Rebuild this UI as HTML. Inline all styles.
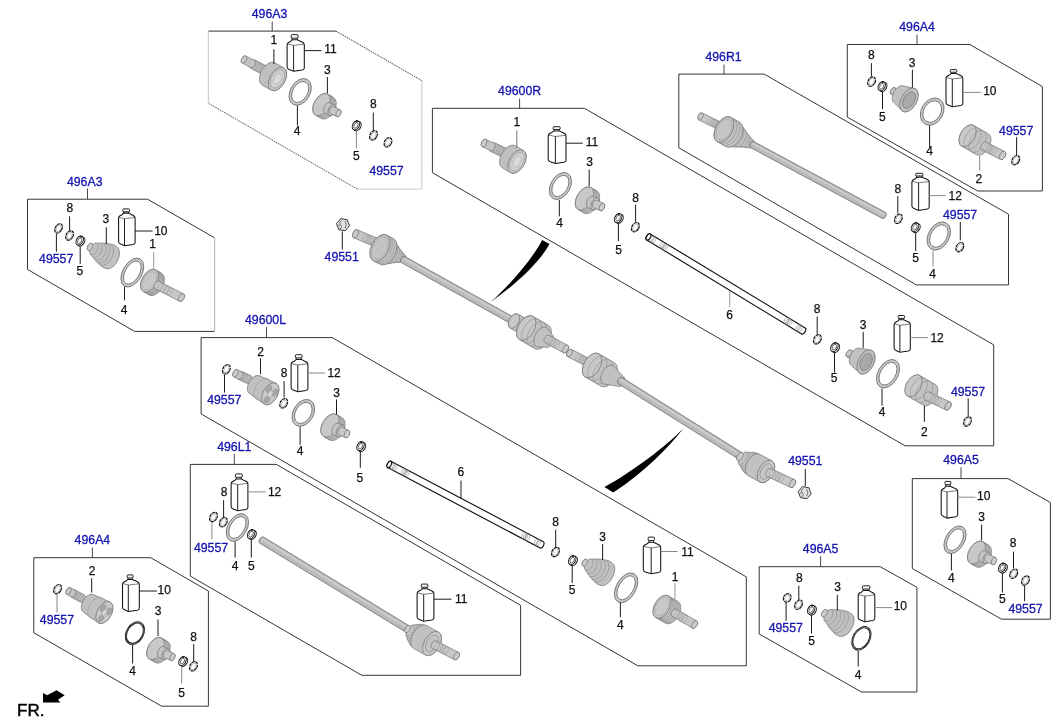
<!DOCTYPE html>
<html><head><meta charset="utf-8"><style>
html,body{margin:0;padding:0;background:#fff;}
svg{display:block;font-family:"Liberation Sans",sans-serif;}
svg{will-change:transform;}
</style></head><body>
<svg width="1063" height="727" viewBox="0 0 1063 727">
<rect width="1063" height="727" fill="#fff"/>
<line x1="208.3" y1="31.1" x2="335.9" y2="31.1" stroke="#333" stroke-width="1.0"/>
<line x1="335.9" y1="31.1" x2="421.9" y2="80.7" stroke="#333" stroke-width="0.9" stroke-dasharray="1.6 0.9"/>
<line x1="357.5" y1="189.2" x2="208.3" y2="103.2" stroke="#444" stroke-width="0.9" stroke-dasharray="1.6 0.9"/>
<line x1="421.9" y1="80.7" x2="421.9" y2="189.2" stroke="#c4c4c4" stroke-width="1.0"/>
<line x1="421.9" y1="189.2" x2="357.5" y2="189.2" stroke="#d4d4d4" stroke-width="1.2"/>
<line x1="208.3" y1="103.2" x2="208.3" y2="31.1" stroke="#c4c4c4" stroke-width="1.0"/>
<polyline points="214.6,237.8 147.5,199.2 27.5,199.2 27.5,269.4 134.6,331.4 214.6,331.4" fill="none" stroke="#2a2a2a" stroke-width="0.95"/>
<line x1="214.6" y1="237.8" x2="214.6" y2="331.4" stroke="#b8b8b8" stroke-width="1.1"/>
<polygon points="432.4,108.3 584.5,108.3 993.7,344.9 993.7,445.8 905,445.8 432.4,172.7" fill="none" stroke="#2a2a2a" stroke-width="0.95" />
<polygon points="678.8,74.1 764.2,74.1 1008.5,214.2 1008.5,284.9 916.3,284.9 678.8,147.8" fill="none" stroke="#2a2a2a" stroke-width="0.95" />
<polygon points="847.3,44.5 969.9,44.5 1042.4,86.6 1042.4,191 977.7,191 847.3,117.1" fill="none" stroke="#2a2a2a" stroke-width="0.95" />
<polygon points="201.1,337.6 332.3,337.6 746.3,576.9 746.3,665.8 637.8,665.8 201.1,413.9" fill="none" stroke="#2a2a2a" stroke-width="0.95" />
<polygon points="190.3,464.4 276.3,464.4 520.6,605.3 520.6,675.3 361.8,675.3 190.3,576.1" fill="none" stroke="#2a2a2a" stroke-width="0.95" />
<polygon points="33.8,557.7 150.7,557.7 208.4,591 208.4,706.2 161.7,706.2 33.8,632.8" fill="none" stroke="#2a2a2a" stroke-width="0.95" />
<polygon points="759.2,566.7 880.2,566.7 916.9,587.3 916.9,692 861.5,692 759.2,634" fill="none" stroke="#2a2a2a" stroke-width="0.95" />
<polygon points="912.3,478.6 1008,478.6 1050.4,502.5 1050.4,619.2 1001.5,619.2 912.3,568.5" fill="none" stroke="#2a2a2a" stroke-width="0.95" />
<text x="269.5" y="18.2" font-size="12.3" fill="#1414ae" stroke="#1414ae" stroke-width="0.3" text-anchor="middle">496A3</text>
<line x1="272.2" y1="21.5" x2="272.2" y2="31.1" stroke="#333" stroke-width="0.9"/>
<text x="84.7" y="185.5" font-size="12.3" fill="#1414ae" stroke="#1414ae" stroke-width="0.3" text-anchor="middle">496A3</text>
<line x1="87.5" y1="188.5" x2="87.5" y2="199.2" stroke="#333" stroke-width="0.9"/>
<text x="519.6" y="95.2" font-size="12.3" fill="#1414ae" stroke="#1414ae" stroke-width="0.3" text-anchor="middle">49600R</text>
<line x1="519.6" y1="98.5" x2="519.6" y2="108.3" stroke="#333" stroke-width="0.9"/>
<text x="723.5" y="61.2" font-size="12.3" fill="#1414ae" stroke="#1414ae" stroke-width="0.3" text-anchor="middle">496R1</text>
<line x1="724" y1="64.5" x2="724" y2="74.1" stroke="#333" stroke-width="0.9"/>
<text x="917" y="31.2" font-size="12.3" fill="#1414ae" stroke="#1414ae" stroke-width="0.3" text-anchor="middle">496A4</text>
<line x1="917" y1="34.5" x2="917" y2="44.5" stroke="#333" stroke-width="0.9"/>
<text x="265.5" y="323.7" font-size="12.3" fill="#1414ae" stroke="#1414ae" stroke-width="0.3" text-anchor="middle">49600L</text>
<line x1="266.5" y1="327" x2="266.5" y2="337.6" stroke="#333" stroke-width="0.9"/>
<text x="234.3" y="450.8" font-size="12.3" fill="#1414ae" stroke="#1414ae" stroke-width="0.3" text-anchor="middle">496L1</text>
<line x1="234.3" y1="454" x2="234.3" y2="464.4" stroke="#333" stroke-width="0.9"/>
<text x="92.4" y="544.2" font-size="12.3" fill="#1414ae" stroke="#1414ae" stroke-width="0.3" text-anchor="middle">496A4</text>
<line x1="92.4" y1="547.5" x2="92.4" y2="557.7" stroke="#333" stroke-width="0.9"/>
<text x="820.6" y="553" font-size="12.3" fill="#1414ae" stroke="#1414ae" stroke-width="0.3" text-anchor="middle">496A5</text>
<line x1="820.6" y1="556.3" x2="820.6" y2="566.7" stroke="#333" stroke-width="0.9"/>
<text x="961" y="463.8" font-size="12.3" fill="#1414ae" stroke="#1414ae" stroke-width="0.3" text-anchor="middle">496A5</text>
<line x1="961" y1="467.2" x2="961" y2="478.6" stroke="#333" stroke-width="0.9"/>
<path d="M250.62,68.27 L263.82,75.17 A2.82,4.7 27.6 0 0 268.18,66.83 L254.98,59.93 A2.82,4.7 27.6 0 0 250.62,68.27 Z" fill="#bdbdbd" stroke="#757575" stroke-width="0.7"/>
<ellipse cx="255.44" cy="65.48" rx="2.77" ry="4.62" transform="rotate(27.6 255.44 65.48)" fill="none" stroke="#989898" stroke-width="0.5"/>
<ellipse cx="258.08" cy="66.86" rx="2.77" ry="4.62" transform="rotate(27.6 258.08 66.86)" fill="none" stroke="#989898" stroke-width="0.5"/>
<ellipse cx="260.72" cy="68.24" rx="2.77" ry="4.62" transform="rotate(27.6 260.72 68.24)" fill="none" stroke="#989898" stroke-width="0.5"/>
<ellipse cx="263.36" cy="69.62" rx="2.77" ry="4.62" transform="rotate(27.6 263.36 69.62)" fill="none" stroke="#989898" stroke-width="0.5"/>
<path d="M242.15,63.04 L250.95,67.64 A2.39,3.99 27.6 0 0 254.65,60.56 L245.85,55.96 A2.39,3.99 27.6 0 0 242.15,63.04 Z" fill="#c4c4c4" stroke="#757575" stroke-width="0.7"/>
<ellipse cx="244" cy="59.5" rx="2.39" ry="3.99" transform="rotate(27.6 244 59.5)" fill="#cdcdcd" stroke="#757575" stroke-width="0.7" />
<path d="M262.28,85.19 L271.28,90.19 A7.68,12.8 29.05 0 0 283.72,67.81 L274.72,62.81 A7.68,12.8 29.05 0 0 262.28,85.19 Z" fill="#bfbfbf" stroke="#757575" stroke-width="0.7"/>
<ellipse cx="277.5" cy="79" rx="7.68" ry="12.8" transform="rotate(29.05 277.5 79)" fill="#c6c6c6" stroke="#757575" stroke-width="0.7" />
<ellipse cx="277.5" cy="79" rx="5.99" ry="9.98" transform="rotate(29.05 277.5 79)" fill="#d2d2d2" stroke="#9a9a9a" stroke-width="0.6" />
<polygon points="279.94,82.25 275.37,84.89 272.93,81.64 275.06,75.75 279.63,73.11 282.07,76.36" fill="#dadada" stroke="#a0a0a0" stroke-width="0.5" />
<path d="M287.1,44.9 Q287.1,42.4 290.6,41.4 L292,39.8 L297.3,39.8 L300.8,41.4 Q304.3,42.4 304.3,44.9 L304.3,68 Q304.3,69.5 302.3,70 L293.6,71.3 L289.1,69.5 Q287.1,68.8 287.1,67 Z" fill="#fff" stroke="#111" stroke-width="1.05"/>
<rect x="291.2" y="34.7" width="6.9" height="3.42" rx="0.8" fill="#fff" stroke="#111" stroke-width="0.95"/>
<path d="M292,38.12 L292,39.8 M297.3,38.12 L297.3,39.8" stroke="#111" stroke-width="0.9" fill="none"/>
<path d="M287.6,44 L293.6,45.4 L303.8,44.2" fill="none" stroke="#444" stroke-width="0.7"/>
<line x1="293.6" y1="45.4" x2="293.6" y2="71" stroke="#111" stroke-width="0.95"/>
<path d="M290.33,91.9 a9.87,14.33 0 1 0 19.75,0 a9.87,14.33 0 1 0 -19.75,0 Z M292.73,91.9 a7.47,11.33 0 1 0 14.95,0 a7.47,11.33 0 1 0 -14.95,0 Z" fill-rule="evenodd" fill="#c9c9c9" stroke="#6a6a6a" stroke-width="0.8" transform="rotate(30 300.2 91.9)"/>
<path d="M315.35,115.04 L321.35,118.54 A7.32,12.2 30.26 0 0 333.65,97.46 L327.65,93.96 A7.32,12.2 30.26 0 0 315.35,115.04 Z" fill="#c1c1c1" stroke="#757575" stroke-width="0.7"/>
<ellipse cx="323" cy="105.38" rx="7.32" ry="12.2" transform="rotate(30.26 323 105.38)" fill="none" stroke="#8a8a8a" stroke-width="0.5"/>
<ellipse cx="324.5" cy="106.25" rx="7.32" ry="12.2" transform="rotate(30.26 324.5 106.25)" fill="none" stroke="#8a8a8a" stroke-width="0.5"/>
<ellipse cx="326" cy="107.12" rx="7.32" ry="12.2" transform="rotate(30.26 326 107.12)" fill="none" stroke="#8a8a8a" stroke-width="0.5"/>
<ellipse cx="321.5" cy="104.5" rx="7.32" ry="12.2" transform="rotate(30.26 321.5 104.5)" fill="#c8c8c8" stroke="#757575" stroke-width="0.7" />
<path d="M325,113.29 L329.4,115.37 A3.51,5.85 25.3 0 0 334.4,104.79 L330,102.71 A3.51,5.85 25.3 0 0 325,113.29 Z" fill="#c4c4c4" stroke="#757575" stroke-width="0.7"/>
<ellipse cx="331.9" cy="110.08" rx="3.51" ry="5.85" transform="rotate(25.3 331.9 110.08)" fill="#c9c9c9" stroke="#757575" stroke-width="0.7" />
<path d="M330.27,113.54 L336.87,116.66 A2.29,3.82 25.3 0 0 340.13,109.74 L333.53,106.62 A2.29,3.82 25.3 0 0 330.27,113.54 Z" fill="#c8c8c8" stroke="#757575" stroke-width="0.7"/>
<ellipse cx="338.5" cy="113.2" rx="2.29" ry="3.82" transform="rotate(25.3 338.5 113.2)" fill="#d0d0d0" stroke="#757575" stroke-width="0.7" />
<ellipse cx="357.45" cy="126.25" rx="3.27" ry="4.88" transform="rotate(30 357.45 126.25)" fill="#f4f4f4" stroke="#111" stroke-width="1.0" />
<ellipse cx="355.98" cy="125.4" rx="3.27" ry="4.88" transform="rotate(30 355.98 125.4)" fill="#f8f8f8" stroke="#111" stroke-width="1.0" />
<ellipse cx="355.98" cy="125.4" rx="1.77" ry="3.18" transform="rotate(30 355.98 125.4)" fill="#fff" stroke="#333" stroke-width="0.7" />
<circle cx="356.78" cy="121.32" r="1" fill="#111"/>
<ellipse cx="373.5" cy="135.4" rx="3.44" ry="5.06" transform="rotate(30 373.5 135.4)" fill="none" stroke="#111" stroke-width="1.2" stroke-dasharray="3.2 0.6"/>
<ellipse cx="373.5" cy="135.4" rx="2.14" ry="3.66" transform="rotate(30 373.5 135.4)" fill="none" stroke="#9a9a9a" stroke-width="0.6" />
<ellipse cx="388" cy="142.3" rx="3.44" ry="5.06" transform="rotate(30 388 142.3)" fill="none" stroke="#111" stroke-width="1.2" stroke-dasharray="3.2 0.6"/>
<ellipse cx="388" cy="142.3" rx="2.14" ry="3.66" transform="rotate(30 388 142.3)" fill="none" stroke="#9a9a9a" stroke-width="0.6" />
<text x="273.8" y="43.8" font-size="12" fill="#111" stroke="#111" stroke-width="0.25" text-anchor="middle">1</text>
<line x1="273.9" y1="49.3" x2="273.9" y2="64" stroke="#1a1a1a" stroke-width="1.0"/>
<text x="324.3" y="53.4" font-size="12" fill="#111" stroke="#111" stroke-width="0.25" text-anchor="start">11</text>
<line x1="304.3" y1="50.6" x2="321.5" y2="50.6" stroke="#1a1a1a" stroke-width="1.0"/>
<text x="327.4" y="74.3" font-size="12" fill="#111" stroke="#111" stroke-width="0.25" text-anchor="middle">3</text>
<line x1="327.4" y1="77" x2="327.4" y2="93.3" stroke="#1a1a1a" stroke-width="1.0"/>
<text x="297" y="134.9" font-size="12" fill="#111" stroke="#111" stroke-width="0.25" text-anchor="middle">4</text>
<line x1="297.4" y1="105.5" x2="297.4" y2="125.5" stroke="#1a1a1a" stroke-width="1.0"/>
<text x="356.4" y="159.5" font-size="12" fill="#111" stroke="#111" stroke-width="0.25" text-anchor="middle">5</text>
<line x1="356.4" y1="131" x2="356.4" y2="148.2" stroke="#888" stroke-width="1.0"/>
<text x="373.3" y="108.4" font-size="12" fill="#111" stroke="#111" stroke-width="0.25" text-anchor="middle">8</text>
<line x1="373.3" y1="112.5" x2="373.3" y2="131" stroke="#1a1a1a" stroke-width="1.0"/>
<text x="386.5" y="175.4" font-size="12.3" fill="#1414ae" stroke="#1414ae" stroke-width="0.3" text-anchor="middle">49557</text>
<ellipse cx="58.6" cy="228.4" rx="3.31" ry="5.03" transform="rotate(30 58.6 228.4)" fill="none" stroke="#111" stroke-width="1.2" stroke-dasharray="3.2 0.6"/>
<ellipse cx="58.6" cy="228.4" rx="2.01" ry="3.63" transform="rotate(30 58.6 228.4)" fill="none" stroke="#9a9a9a" stroke-width="0.6" />
<line x1="56.4" y1="234" x2="56.4" y2="251.7" stroke="#1a1a1a" stroke-width="1.0"/>
<text x="56.2" y="262.7" font-size="12.3" fill="#1414ae" stroke="#1414ae" stroke-width="0.3" text-anchor="middle">49557</text>
<ellipse cx="69.6" cy="235.5" rx="3.44" ry="5.06" transform="rotate(30 69.6 235.5)" fill="none" stroke="#111" stroke-width="1.2" stroke-dasharray="3.2 0.6"/>
<ellipse cx="69.6" cy="235.5" rx="2.14" ry="3.66" transform="rotate(30 69.6 235.5)" fill="none" stroke="#9a9a9a" stroke-width="0.6" />
<text x="69.8" y="211.9" font-size="12" fill="#111" stroke="#111" stroke-width="0.25" text-anchor="middle">8</text>
<line x1="69.6" y1="216.3" x2="69.6" y2="230.8" stroke="#1a1a1a" stroke-width="1.0"/>
<ellipse cx="81.15" cy="241.55" rx="3.27" ry="4.88" transform="rotate(30 81.15 241.55)" fill="#f4f4f4" stroke="#111" stroke-width="1.0" />
<ellipse cx="79.68" cy="240.7" rx="3.27" ry="4.88" transform="rotate(30 79.68 240.7)" fill="#f8f8f8" stroke="#111" stroke-width="1.0" />
<ellipse cx="79.68" cy="240.7" rx="1.77" ry="3.18" transform="rotate(30 79.68 240.7)" fill="#fff" stroke="#333" stroke-width="0.7" />
<circle cx="80.48" cy="236.62" r="1" fill="#111"/>
<line x1="80.2" y1="246.5" x2="80.2" y2="263.8" stroke="#1a1a1a" stroke-width="1.0"/>
<text x="79.8" y="275.4" font-size="12" fill="#111" stroke="#111" stroke-width="0.25" text-anchor="middle">5</text>
<path d="M88.21,250.58 L89.89,251.42 L89.84,253.63 L92.8,257.15 L95.97,261.3 L99.49,264.77 L102.26,267.11 L105.52,268.46 A7.35,12.25 26.57 0 0 116.48,246.54 L113.44,244.74 L109.91,243.93 L105.03,243.2 L99.8,243.15 L95.2,242.89 L93.47,244.26 L91.79,243.42 A2.4,4 26.57 0 0 88.21,250.58 Z" fill="#c0c0c0" stroke="#747474" stroke-width="0.7" stroke-linejoin="round"/>
<path d="M90.91,254.62 A3.96,6.41 26.57 0 0 96.65,243.16" fill="none" stroke="#8c8c8c" stroke-width="0.6"/>
<path d="M93.23,257.35 A4.83,7.81 26.57 0 0 100.21,243.37" fill="none" stroke="#8c8c8c" stroke-width="0.6"/>
<path d="M95.47,260.21 A5.8,9.37 26.57 0 0 103.85,243.45" fill="none" stroke="#8c8c8c" stroke-width="0.6"/>
<path d="M97.88,262.74 A6.53,10.56 26.57 0 0 107.32,243.86" fill="none" stroke="#8c8c8c" stroke-width="0.6"/>
<path d="M100.39,265.07 A7.13,11.52 26.57 0 0 110.69,244.47" fill="none" stroke="#8c8c8c" stroke-width="0.6"/>
<ellipse cx="90" cy="247" rx="2.4" ry="4" transform="rotate(26.57 90 247)" fill="#cacaca" stroke="#757575" stroke-width="0.6" />
<text x="105.9" y="223.4" font-size="12" fill="#111" stroke="#111" stroke-width="0.25" text-anchor="middle">3</text>
<line x1="106.3" y1="227.3" x2="106.3" y2="244" stroke="#1a1a1a" stroke-width="1.0"/>
<path d="M118.6,218.2 Q118.6,215.7 122.1,214.7 L123.7,213.1 L128.7,213.1 L131.6,214.7 Q135.1,215.7 135.1,218.2 L135.1,242.4 Q135.1,243.9 133.1,244.4 L124.5,245.7 L120.6,243.9 Q118.6,243.2 118.6,241.4 Z" fill="#fff" stroke="#111" stroke-width="1.05"/>
<rect x="122.9" y="208.9" width="6.6" height="2.88" rx="0.8" fill="#fff" stroke="#111" stroke-width="0.95"/>
<path d="M123.7,211.78 L123.7,213.1 M128.7,211.78 L128.7,213.1" stroke="#111" stroke-width="0.9" fill="none"/>
<path d="M119.1,217.3 L124.5,218.7 L134.6,217.5" fill="none" stroke="#444" stroke-width="0.7"/>
<line x1="124.5" y1="218.7" x2="124.5" y2="245.4" stroke="#111" stroke-width="0.95"/>
<line x1="135.1" y1="231" x2="152.6" y2="231" stroke="#1a1a1a" stroke-width="1.0"/>
<text x="154.2" y="234.7" font-size="12" fill="#111" stroke="#111" stroke-width="0.25" text-anchor="start">10</text>
<path d="M122.77,272.6 a9.53,15.76 0 1 0 19.06,0 a9.53,15.76 0 1 0 -19.06,0 Z M125.17,272.6 a7.13,12.76 0 1 0 14.26,0 a7.13,12.76 0 1 0 -14.26,0 Z" fill-rule="evenodd" fill="#c9c9c9" stroke="#6a6a6a" stroke-width="0.8" transform="rotate(30 132.3 272.6)"/>
<line x1="124.5" y1="286.6" x2="124.5" y2="300.3" stroke="#1a1a1a" stroke-width="1.0"/>
<text x="124" y="313.5" font-size="12" fill="#111" stroke="#111" stroke-width="0.25" text-anchor="middle">4</text>
<path d="M143.2,291.5 L149.2,295 A7.5,12.5 30.26 0 0 161.8,273.4 L155.8,269.9 A7.5,12.5 30.26 0 0 143.2,291.5 Z" fill="#c1c1c1" stroke="#757575" stroke-width="0.7"/>
<ellipse cx="150.5" cy="281.28" rx="7.5" ry="12.5" transform="rotate(30.26 150.5 281.28)" fill="none" stroke="#8d8d8d" stroke-width="0.5"/>
<ellipse cx="151.5" cy="281.87" rx="7.5" ry="12.5" transform="rotate(30.26 151.5 281.87)" fill="none" stroke="#8d8d8d" stroke-width="0.5"/>
<ellipse cx="152.5" cy="282.45" rx="7.5" ry="12.5" transform="rotate(30.26 152.5 282.45)" fill="none" stroke="#8d8d8d" stroke-width="0.5"/>
<ellipse cx="153.5" cy="283.03" rx="7.5" ry="12.5" transform="rotate(30.26 153.5 283.03)" fill="none" stroke="#8d8d8d" stroke-width="0.5"/>
<ellipse cx="154.5" cy="283.62" rx="7.5" ry="12.5" transform="rotate(30.26 154.5 283.62)" fill="none" stroke="#8d8d8d" stroke-width="0.5"/>
<ellipse cx="149.5" cy="280.7" rx="7.5" ry="12.5" transform="rotate(30.26 149.5 280.7)" fill="#c8c8c8" stroke="#757575" stroke-width="0.7" />
<ellipse cx="149.5" cy="280.7" rx="6" ry="10" transform="rotate(30.26 149.5 280.7)" fill="none" stroke="#999" stroke-width="0.5" />
<path d="M183.41,293.76 L158.91,281.26 A2.52,4.2 -152.97 0 0 155.09,288.74 L179.59,301.24 A2.52,4.2 -152.97 0 0 183.41,293.76 Z" fill="#c8c8c8" stroke="#757575" stroke-width="0.7"/>
<ellipse cx="181.5" cy="297.5" rx="2.52" ry="4.2" transform="rotate(-152.97 181.5 297.5)" fill="#c9c9c9" stroke="#757575" stroke-width="0.7" />
<ellipse cx="169.74" cy="291.5" rx="2.39" ry="3.99" transform="rotate(-152.97 169.74 291.5)" fill="none" stroke="#999" stroke-width="0.5"/>
<ellipse cx="166.56" cy="289.88" rx="2.39" ry="3.99" transform="rotate(-152.97 166.56 289.88)" fill="none" stroke="#999" stroke-width="0.5"/>
<ellipse cx="163.37" cy="288.25" rx="2.39" ry="3.99" transform="rotate(-152.97 163.37 288.25)" fill="none" stroke="#999" stroke-width="0.5"/>
<ellipse cx="160.19" cy="286.62" rx="2.39" ry="3.99" transform="rotate(-152.97 160.19 286.62)" fill="none" stroke="#999" stroke-width="0.5"/>
<text x="152.6" y="247.9" font-size="12" fill="#111" stroke="#111" stroke-width="0.25" text-anchor="middle">1</text>
<line x1="153.7" y1="252" x2="153.7" y2="269.3" stroke="#999" stroke-width="1.0"/>
<path d="M490.33,151.35 L502.93,157.35 A2.89,4.82 25.46 0 0 507.07,148.65 L494.47,142.65 A2.89,4.82 25.46 0 0 490.33,151.35 Z" fill="#bdbdbd" stroke="#757575" stroke-width="0.7"/>
<ellipse cx="494.92" cy="148.2" rx="2.84" ry="4.73" transform="rotate(25.46 494.92 148.2)" fill="none" stroke="#989898" stroke-width="0.5"/>
<ellipse cx="497.44" cy="149.4" rx="2.84" ry="4.73" transform="rotate(25.46 497.44 149.4)" fill="none" stroke="#989898" stroke-width="0.5"/>
<ellipse cx="499.96" cy="150.6" rx="2.84" ry="4.73" transform="rotate(25.46 499.96 150.6)" fill="none" stroke="#989898" stroke-width="0.5"/>
<ellipse cx="502.48" cy="151.8" rx="2.84" ry="4.73" transform="rotate(25.46 502.48 151.8)" fill="none" stroke="#989898" stroke-width="0.5"/>
<path d="M482.24,146.69 L490.64,150.69 A2.45,4.08 25.46 0 0 494.16,143.31 L485.76,139.31 A2.45,4.08 25.46 0 0 482.24,146.69 Z" fill="#c4c4c4" stroke="#757575" stroke-width="0.7"/>
<ellipse cx="484" cy="143" rx="2.45" ry="4.08" transform="rotate(25.46 484 143)" fill="#cdcdcd" stroke="#757575" stroke-width="0.7" />
<path d="M502.33,167.85 L510.53,172.65 A7.68,12.8 30.34 0 0 523.47,150.55 L515.27,145.75 A7.68,12.8 30.34 0 0 502.33,167.85 Z" fill="#bfbfbf" stroke="#757575" stroke-width="0.7"/>
<ellipse cx="517" cy="161.6" rx="7.68" ry="12.8" transform="rotate(30.34 517 161.6)" fill="#c6c6c6" stroke="#757575" stroke-width="0.7" />
<ellipse cx="517" cy="161.6" rx="5.99" ry="9.98" transform="rotate(30.34 517 161.6)" fill="#d2d2d2" stroke="#9a9a9a" stroke-width="0.6" />
<polygon points="519.36,164.9 514.73,167.44 512.37,164.13 514.64,158.3 519.27,155.76 521.63,159.07" fill="#dadada" stroke="#a0a0a0" stroke-width="0.5" />
<text x="516.8" y="125.5" font-size="12" fill="#111" stroke="#111" stroke-width="0.25" text-anchor="middle">1</text>
<line x1="516.8" y1="130.4" x2="516.8" y2="147.8" stroke="#777" stroke-width="1.0"/>
<path d="M548.2,136 Q548.2,133.5 551.7,132.5 L554,130.9 L559.3,130.9 L562.5,132.5 Q566,133.5 566,136 L566,160.2 Q566,161.7 564,162.2 L555.4,163.5 L550.2,161.7 Q548.2,161 548.2,159.2 Z" fill="#fff" stroke="#111" stroke-width="1.05"/>
<rect x="553.2" y="126.7" width="6.9" height="2.88" rx="0.8" fill="#fff" stroke="#111" stroke-width="0.95"/>
<path d="M554,129.58 L554,130.9 M559.3,129.58 L559.3,130.9" stroke="#111" stroke-width="0.9" fill="none"/>
<path d="M548.7,135.1 L555.4,136.5 L565.5,135.3" fill="none" stroke="#444" stroke-width="0.7"/>
<line x1="555.4" y1="136.5" x2="555.4" y2="163.2" stroke="#111" stroke-width="0.95"/>
<line x1="566" y1="143.2" x2="582.7" y2="143.2" stroke="#1a1a1a" stroke-width="1.0"/>
<text x="585.8" y="146.2" font-size="12" fill="#111" stroke="#111" stroke-width="0.25" text-anchor="start">11</text>
<path d="M550.71,186 a9.69,14.56 0 1 0 19.38,0 a9.69,14.56 0 1 0 -19.38,0 Z M553.11,186 a7.29,11.56 0 1 0 14.58,0 a7.29,11.56 0 1 0 -14.58,0 Z" fill-rule="evenodd" fill="#c9c9c9" stroke="#6a6a6a" stroke-width="0.8" transform="rotate(30 560.4 186)"/>
<line x1="559.3" y1="200" x2="559.3" y2="216.4" stroke="#1a1a1a" stroke-width="1.0"/>
<text x="559.5" y="226.7" font-size="12" fill="#111" stroke="#111" stroke-width="0.25" text-anchor="middle">4</text>
<path d="M578.05,209.56 L584.05,213.06 A7.68,12.8 30.26 0 0 596.95,190.94 L590.95,187.44 A7.68,12.8 30.26 0 0 578.05,209.56 Z" fill="#c1c1c1" stroke="#757575" stroke-width="0.7"/>
<ellipse cx="586" cy="199.38" rx="7.68" ry="12.8" transform="rotate(30.26 586 199.38)" fill="none" stroke="#8a8a8a" stroke-width="0.5"/>
<ellipse cx="587.5" cy="200.25" rx="7.68" ry="12.8" transform="rotate(30.26 587.5 200.25)" fill="none" stroke="#8a8a8a" stroke-width="0.5"/>
<ellipse cx="589" cy="201.12" rx="7.68" ry="12.8" transform="rotate(30.26 589 201.12)" fill="none" stroke="#8a8a8a" stroke-width="0.5"/>
<ellipse cx="584.5" cy="198.5" rx="7.68" ry="12.8" transform="rotate(30.26 584.5 198.5)" fill="#c8c8c8" stroke="#757575" stroke-width="0.7" />
<path d="M588.01,207.72 L592.61,209.72 A3.74,6.24 23.5 0 0 597.59,198.28 L592.99,196.28 A3.74,6.24 23.5 0 0 588.01,207.72 Z" fill="#c4c4c4" stroke="#757575" stroke-width="0.7"/>
<ellipse cx="595.1" cy="204" rx="3.74" ry="6.24" transform="rotate(23.5 595.1 204)" fill="#c9c9c9" stroke="#757575" stroke-width="0.7" />
<path d="M593.47,207.74 L600.37,210.74 A2.45,4.08 23.5 0 0 603.63,203.26 L596.73,200.26 A2.45,4.08 23.5 0 0 593.47,207.74 Z" fill="#c8c8c8" stroke="#757575" stroke-width="0.7"/>
<ellipse cx="602" cy="207" rx="2.45" ry="4.08" transform="rotate(23.5 602 207)" fill="#d0d0d0" stroke="#757575" stroke-width="0.7" />
<text x="589.5" y="165.5" font-size="12" fill="#111" stroke="#111" stroke-width="0.25" text-anchor="middle">3</text>
<line x1="589.2" y1="169.6" x2="589.2" y2="186.1" stroke="#1a1a1a" stroke-width="1.0"/>
<ellipse cx="619.55" cy="218.95" rx="3.27" ry="4.88" transform="rotate(30 619.55 218.95)" fill="#f4f4f4" stroke="#111" stroke-width="1.0" />
<ellipse cx="618.08" cy="218.1" rx="3.27" ry="4.88" transform="rotate(30 618.08 218.1)" fill="#f8f8f8" stroke="#111" stroke-width="1.0" />
<ellipse cx="618.08" cy="218.1" rx="1.77" ry="3.18" transform="rotate(30 618.08 218.1)" fill="#fff" stroke="#333" stroke-width="0.7" />
<circle cx="618.88" cy="214.02" r="1" fill="#111"/>
<line x1="618.4" y1="224" x2="618.4" y2="241.1" stroke="#1a1a1a" stroke-width="1.0"/>
<text x="618.7" y="253.5" font-size="12" fill="#111" stroke="#111" stroke-width="0.25" text-anchor="middle">5</text>
<ellipse cx="635.4" cy="227.2" rx="3.44" ry="5.06" transform="rotate(30 635.4 227.2)" fill="none" stroke="#111" stroke-width="1.2" stroke-dasharray="3.2 0.6"/>
<ellipse cx="635.4" cy="227.2" rx="2.14" ry="3.66" transform="rotate(30 635.4 227.2)" fill="none" stroke="#9a9a9a" stroke-width="0.6" />
<line x1="635.6" y1="204.7" x2="635.6" y2="222.6" stroke="#1a1a1a" stroke-width="1.0"/>
<text x="635.5" y="202.4" font-size="12" fill="#111" stroke="#111" stroke-width="0.25" text-anchor="middle">8</text>
<path d="M646.68,239.89 L801.58,333.89 A1.93,3.5 31.25 0 0 805.22,327.91 L650.32,233.91 A1.93,3.5 31.25 0 0 646.68,239.89 Z" fill="#fff" stroke="#111" stroke-width="1.15"/>
<ellipse cx="648.5" cy="236.9" rx="1.93" ry="3.5" transform="rotate(31.25 648.5 236.9)" fill="#fff" stroke="#111" stroke-width="1.15" />
<ellipse cx="651.92" cy="238.98" rx="1.75" ry="3.5" transform="rotate(31.25 651.92 238.98)" fill="none" stroke="#777" stroke-width="0.5"/>
<ellipse cx="799.98" cy="328.82" rx="1.75" ry="3.5" transform="rotate(31.25 799.98 328.82)" fill="none" stroke="#777" stroke-width="0.5"/>
<ellipse cx="653.63" cy="240.01" rx="1.75" ry="3.5" transform="rotate(31.25 653.63 240.01)" fill="none" stroke="#777" stroke-width="0.5"/>
<ellipse cx="798.27" cy="327.79" rx="1.75" ry="3.5" transform="rotate(31.25 798.27 327.79)" fill="none" stroke="#777" stroke-width="0.5"/>
<ellipse cx="662.18" cy="245.2" rx="1.75" ry="3.5" transform="rotate(31.25 662.18 245.2)" fill="none" stroke="#777" stroke-width="0.5"/>
<ellipse cx="789.72" cy="322.6" rx="1.75" ry="3.5" transform="rotate(31.25 789.72 322.6)" fill="none" stroke="#777" stroke-width="0.5"/>
<ellipse cx="663.89" cy="246.24" rx="1.75" ry="3.5" transform="rotate(31.25 663.89 246.24)" fill="none" stroke="#777" stroke-width="0.5"/>
<ellipse cx="788.01" cy="321.56" rx="1.75" ry="3.5" transform="rotate(31.25 788.01 321.56)" fill="none" stroke="#777" stroke-width="0.5"/>
<ellipse cx="665.6" cy="247.28" rx="1.75" ry="3.5" transform="rotate(31.25 665.6 247.28)" fill="none" stroke="#777" stroke-width="0.5"/>
<ellipse cx="786.3" cy="320.52" rx="1.75" ry="3.5" transform="rotate(31.25 786.3 320.52)" fill="none" stroke="#777" stroke-width="0.5"/>
<text x="729.7" y="319" font-size="12" fill="#111" stroke="#111" stroke-width="0.25" text-anchor="middle">6</text>
<line x1="729.7" y1="291.1" x2="729.7" y2="307.2" stroke="#999" stroke-width="1.0"/>
<ellipse cx="817.4" cy="339.3" rx="3.44" ry="5.06" transform="rotate(30 817.4 339.3)" fill="none" stroke="#111" stroke-width="1.2" stroke-dasharray="3.2 0.6"/>
<ellipse cx="817.4" cy="339.3" rx="2.14" ry="3.66" transform="rotate(30 817.4 339.3)" fill="none" stroke="#9a9a9a" stroke-width="0.6" />
<text x="817" y="312.9" font-size="12" fill="#111" stroke="#111" stroke-width="0.25" text-anchor="middle">8</text>
<line x1="817.2" y1="316.5" x2="817.2" y2="334.7" stroke="#1a1a1a" stroke-width="1.0"/>
<ellipse cx="835.85" cy="348.05" rx="3.27" ry="4.88" transform="rotate(30 835.85 348.05)" fill="#f4f4f4" stroke="#111" stroke-width="1.0" />
<ellipse cx="834.38" cy="347.2" rx="3.27" ry="4.88" transform="rotate(30 834.38 347.2)" fill="#f8f8f8" stroke="#111" stroke-width="1.0" />
<ellipse cx="834.38" cy="347.2" rx="1.77" ry="3.18" transform="rotate(30 834.38 347.2)" fill="#fff" stroke="#333" stroke-width="0.7" />
<circle cx="835.18" cy="343.12" r="1" fill="#111"/>
<line x1="834.5" y1="353" x2="834.5" y2="372.7" stroke="#1a1a1a" stroke-width="1.0"/>
<text x="834.2" y="382.2" font-size="12" fill="#111" stroke="#111" stroke-width="0.25" text-anchor="middle">5</text>
<path d="M846.98,356.96 L852.98,360.46 A2.4,4 30.26 0 0 857.02,353.54 L851.02,350.04 A2.4,4 30.26 0 0 846.98,356.96 Z" fill="#c8c8c8" stroke="#757575" stroke-width="0.7"/>
<ellipse cx="849" cy="353.5" rx="2.4" ry="4" transform="rotate(30.26 849 353.5)" fill="#c9c9c9" stroke="#757575" stroke-width="0.7" />
<path d="M851.64,365.72 L860.19,373.63 A7.8,13 26.57 0 0 871.81,350.37 L860.36,348.28 A5.85,9.75 26.57 0 0 851.64,365.72 Z" fill="#c1c1c1" stroke="#757575" stroke-width="0.7"/>
<ellipse cx="866" cy="362" rx="7.8" ry="13" transform="rotate(26.57 866 362)" fill="#c0c0c0" stroke="#757575" stroke-width="0.7" />
<ellipse cx="866" cy="362" rx="5.46" ry="9.1" transform="rotate(26.57 866 362)" fill="#a8a8a8" stroke="#757575" stroke-width="0.6" />
<text x="863.2" y="328.9" font-size="12" fill="#111" stroke="#111" stroke-width="0.25" text-anchor="middle">3</text>
<line x1="863.2" y1="332" x2="863.2" y2="347.9" stroke="#1a1a1a" stroke-width="1.0"/>
<path d="M894.1,324.8 Q894.1,322.3 897.6,321.3 L899,319.7 L903.7,319.7 L906.8,321.3 Q910.3,322.3 910.3,324.8 L910.3,349 Q910.3,350.5 908.3,351 L899.9,352.3 L896.1,350.5 Q894.1,349.8 894.1,348 Z" fill="#fff" stroke="#111" stroke-width="1.05"/>
<rect x="898.2" y="315.5" width="6.3" height="2.88" rx="0.8" fill="#fff" stroke="#111" stroke-width="0.95"/>
<path d="M899,318.38 L899,319.7 M903.7,318.38 L903.7,319.7" stroke="#111" stroke-width="0.9" fill="none"/>
<path d="M894.6,323.9 L899.9,325.3 L909.8,324.1" fill="none" stroke="#444" stroke-width="0.7"/>
<line x1="899.9" y1="325.3" x2="899.9" y2="352" stroke="#111" stroke-width="0.95"/>
<line x1="910.3" y1="337.6" x2="928" y2="337.6" stroke="#888" stroke-width="1.0"/>
<text x="930.4" y="341.6" font-size="12" fill="#111" stroke="#111" stroke-width="0.25" text-anchor="start">12</text>
<path d="M878.03,373.7 a9.97,15.36 0 1 0 19.95,0 a9.97,15.36 0 1 0 -19.95,0 Z M880.43,373.7 a7.57,12.36 0 1 0 15.15,0 a7.57,12.36 0 1 0 -15.15,0 Z" fill-rule="evenodd" fill="#c9c9c9" stroke="#6a6a6a" stroke-width="0.8" transform="rotate(30 888 373.7)"/>
<line x1="882" y1="388.5" x2="882" y2="405.7" stroke="#1a1a1a" stroke-width="1.0"/>
<text x="882" y="416.4" font-size="12" fill="#111" stroke="#111" stroke-width="0.25" text-anchor="middle">4</text>
<path d="M907.52,396.1 L923.52,405.3 A7.2,12 29.9 0 0 935.48,384.5 L919.48,375.3 A7.2,12 29.9 0 0 907.52,396.1 Z" fill="#c1c1c1" stroke="#757575" stroke-width="0.7"/>
<ellipse cx="913.5" cy="385.7" rx="7.2" ry="12" transform="rotate(29.9 913.5 385.7)" fill="#c8c8c8" stroke="#757575" stroke-width="0.7" />
<ellipse cx="918.83" cy="388.77" rx="7.2" ry="12" transform="rotate(29.9 918.83 388.77)" fill="none" stroke="#8d8d8d" stroke-width="0.5"/>
<ellipse cx="924.17" cy="391.83" rx="7.2" ry="12" transform="rotate(29.9 924.17 391.83)" fill="none" stroke="#8d8d8d" stroke-width="0.5"/>
<path d="M949.96,401.95 L929.06,391.85 A2.7,4.5 -154.21 0 0 925.14,399.95 L946.04,410.05 A2.7,4.5 -154.21 0 0 949.96,401.95 Z" fill="#c8c8c8" stroke="#757575" stroke-width="0.7"/>
<ellipse cx="948" cy="406" rx="2.7" ry="4.5" transform="rotate(-154.21 948 406)" fill="#c9c9c9" stroke="#757575" stroke-width="0.7" />
<ellipse cx="937.97" cy="401.15" rx="2.56" ry="4.27" transform="rotate(-154.21 937.97 401.15)" fill="none" stroke="#999" stroke-width="0.5"/>
<ellipse cx="935.25" cy="399.84" rx="2.56" ry="4.27" transform="rotate(-154.21 935.25 399.84)" fill="none" stroke="#999" stroke-width="0.5"/>
<ellipse cx="932.53" cy="398.53" rx="2.56" ry="4.27" transform="rotate(-154.21 932.53 398.53)" fill="none" stroke="#999" stroke-width="0.5"/>
<ellipse cx="929.82" cy="397.21" rx="2.56" ry="4.27" transform="rotate(-154.21 929.82 397.21)" fill="none" stroke="#999" stroke-width="0.5"/>
<text x="924.4" y="435.7" font-size="12" fill="#111" stroke="#111" stroke-width="0.25" text-anchor="middle">2</text>
<line x1="924.4" y1="405.8" x2="924.4" y2="421.9" stroke="#1a1a1a" stroke-width="1.0"/>
<ellipse cx="967.5" cy="421.5" rx="3.44" ry="5.06" transform="rotate(30 967.5 421.5)" fill="none" stroke="#111" stroke-width="1.2" stroke-dasharray="3.2 0.6"/>
<ellipse cx="967.5" cy="421.5" rx="2.14" ry="3.66" transform="rotate(30 967.5 421.5)" fill="none" stroke="#9a9a9a" stroke-width="0.6" />
<text x="968" y="395.9" font-size="12.3" fill="#1414ae" stroke="#1414ae" stroke-width="0.3" text-anchor="middle">49557</text>
<line x1="968.2" y1="398.4" x2="968.2" y2="416.3" stroke="#1a1a1a" stroke-width="1.0"/>
<path d="M698.79,120.01 L718.29,129.51 A2.34,3.9 25.97 0 0 721.71,122.49 L702.21,112.99 A2.34,3.9 25.97 0 0 698.79,120.01 Z" fill="#c8c8c8" stroke="#757575" stroke-width="0.7"/>
<ellipse cx="700.5" cy="116.5" rx="2.34" ry="3.9" transform="rotate(25.97 700.5 116.5)" fill="#c9c9c9" stroke="#757575" stroke-width="0.7" />
<ellipse cx="709.86" cy="121.06" rx="2.22" ry="3.7" transform="rotate(25.97 709.86 121.06)" fill="none" stroke="#999" stroke-width="0.5"/>
<ellipse cx="712.39" cy="122.3" rx="2.22" ry="3.7" transform="rotate(25.97 712.39 122.3)" fill="none" stroke="#999" stroke-width="0.5"/>
<ellipse cx="714.93" cy="123.53" rx="2.22" ry="3.7" transform="rotate(25.97 714.93 123.53)" fill="none" stroke="#999" stroke-width="0.5"/>
<ellipse cx="717.47" cy="124.77" rx="2.22" ry="3.7" transform="rotate(25.97 717.47 124.77)" fill="none" stroke="#999" stroke-width="0.5"/>
<path d="M727,145.9 L732.53,146.91 L738.59,146.93 L744.51,147.2 L747.8,147.87 L750.23,147.86 A2.28,3.8 27.76 0 0 753.77,141.14 L752.4,139.13 L749.99,136.8 L746.41,132.07 L742.97,127.09 L739,123.1 A7.73,12.88 27.76 0 0 727,145.9 Z" fill="#c0c0c0" stroke="#747474" stroke-width="0.7" stroke-linejoin="round"/>
<path d="M730.49,146.19 A7.12,11.52 27.76 0 0 741.21,125.81" fill="none" stroke="#8e8e8e" stroke-width="0.6"/>
<path d="M735.1,146.65 A6.05,9.78 27.76 0 0 744.2,129.35" fill="none" stroke="#8e8e8e" stroke-width="0.6"/>
<path d="M739.88,146.78 A4.74,7.66 27.76 0 0 747.02,133.22" fill="none" stroke="#8e8e8e" stroke-width="0.6"/>
<path d="M743.89,147.01 A3.71,6 27.76 0 0 749.47,136.39" fill="none" stroke="#8e8e8e" stroke-width="0.6"/>
<path d="M717.2,141.74 L726.2,146.74 A8.4,14 29.05 0 0 739.8,122.26 L730.8,117.26 A8.4,14 29.05 0 0 717.2,141.74 Z" fill="#c1c1c1" stroke="#757575" stroke-width="0.7"/>
<ellipse cx="727" cy="131.17" rx="8.4" ry="14" transform="rotate(29.05 727 131.17)" fill="none" stroke="#8d8d8d" stroke-width="0.5"/>
<ellipse cx="730" cy="132.83" rx="8.4" ry="14" transform="rotate(29.05 730 132.83)" fill="none" stroke="#8d8d8d" stroke-width="0.5"/>
<ellipse cx="724" cy="129.5" rx="8.4" ry="14" transform="rotate(29.05 724 129.5)" fill="#c4c4c4" stroke="#757575" stroke-width="0.7" />
<ellipse cx="724" cy="129.5" rx="6.89" ry="11.48" transform="rotate(29.05 724 129.5)" fill="none" stroke="#9a9a9a" stroke-width="0.5" />
<path d="M750.39,147.49 L882.39,218.49 A2.04,3.4 28.27 0 0 885.61,212.51 L753.61,141.51 A2.04,3.4 28.27 0 0 750.39,147.49 Z" fill="#bababa" stroke="#666" stroke-width="0.75"/>
<line x1="752.48" y1="143.6" x2="884.48" y2="214.6" stroke="#cccccc" stroke-width="1.87"/>
<ellipse cx="898.4" cy="218.8" rx="3.44" ry="5.06" transform="rotate(30 898.4 218.8)" fill="none" stroke="#111" stroke-width="1.2" stroke-dasharray="3.2 0.6"/>
<ellipse cx="898.4" cy="218.8" rx="2.14" ry="3.66" transform="rotate(30 898.4 218.8)" fill="none" stroke="#9a9a9a" stroke-width="0.6" />
<text x="897.8" y="192.7" font-size="12" fill="#111" stroke="#111" stroke-width="0.25" text-anchor="middle">8</text>
<line x1="897.8" y1="196" x2="897.8" y2="213.5" stroke="#1a1a1a" stroke-width="1.0"/>
<ellipse cx="916.45" cy="228.05" rx="3.27" ry="4.88" transform="rotate(30 916.45 228.05)" fill="#f4f4f4" stroke="#111" stroke-width="1.0" />
<ellipse cx="914.98" cy="227.2" rx="3.27" ry="4.88" transform="rotate(30 914.98 227.2)" fill="#f8f8f8" stroke="#111" stroke-width="1.0" />
<ellipse cx="914.98" cy="227.2" rx="1.77" ry="3.18" transform="rotate(30 914.98 227.2)" fill="#fff" stroke="#333" stroke-width="0.7" />
<circle cx="915.78" cy="223.12" r="1" fill="#111"/>
<line x1="915.7" y1="233" x2="915.7" y2="251.1" stroke="#1a1a1a" stroke-width="1.0"/>
<text x="915.5" y="261.7" font-size="12" fill="#111" stroke="#111" stroke-width="0.25" text-anchor="middle">5</text>
<path d="M911.9,182.3 Q911.9,179.8 915.4,178.8 L916.5,177.2 L922.1,177.2 L925.7,178.8 Q929.2,179.8 929.2,182.3 L929.2,207.1 Q929.2,208.6 927.2,209.1 L918.6,210.4 L913.9,208.6 Q911.9,207.9 911.9,206.1 Z" fill="#fff" stroke="#111" stroke-width="1.05"/>
<rect x="915.7" y="173.3" width="7.2" height="2.7" rx="0.8" fill="#fff" stroke="#111" stroke-width="0.95"/>
<path d="M916.5,176 L916.5,177.2 M922.1,176 L922.1,177.2" stroke="#111" stroke-width="0.9" fill="none"/>
<path d="M912.4,181.4 L918.6,182.8 L928.7,181.6" fill="none" stroke="#444" stroke-width="0.7"/>
<line x1="918.6" y1="182.8" x2="918.6" y2="210.1" stroke="#111" stroke-width="0.95"/>
<line x1="929.2" y1="195.6" x2="945.6" y2="195.6" stroke="#888" stroke-width="1.0"/>
<text x="948.5" y="199.7" font-size="12" fill="#111" stroke="#111" stroke-width="0.25" text-anchor="start">12</text>
<path d="M928.38,236 a10.42,15.07 0 1 0 20.84,0 a10.42,15.07 0 1 0 -20.84,0 Z M930.78,236 a8.02,12.07 0 1 0 16.04,0 a8.02,12.07 0 1 0 -16.04,0 Z" fill-rule="evenodd" fill="#c9c9c9" stroke="#6a6a6a" stroke-width="0.8" transform="rotate(30 938.8 236)"/>
<line x1="933" y1="250.5" x2="933" y2="266.5" stroke="#888" stroke-width="1.0"/>
<text x="932.5" y="278" font-size="12" fill="#111" stroke="#111" stroke-width="0.25" text-anchor="middle">4</text>
<ellipse cx="959.8" cy="247.2" rx="3.44" ry="5.06" transform="rotate(30 959.8 247.2)" fill="none" stroke="#111" stroke-width="1.2" stroke-dasharray="3.2 0.6"/>
<ellipse cx="959.8" cy="247.2" rx="2.14" ry="3.66" transform="rotate(30 959.8 247.2)" fill="none" stroke="#9a9a9a" stroke-width="0.6" />
<text x="960.1" y="219.3" font-size="12.3" fill="#1414ae" stroke="#1414ae" stroke-width="0.3" text-anchor="middle">49557</text>
<line x1="960.3" y1="222" x2="960.3" y2="240.3" stroke="#1a1a1a" stroke-width="1.0"/>
<ellipse cx="871.6" cy="81.6" rx="3.44" ry="5.06" transform="rotate(30 871.6 81.6)" fill="none" stroke="#111" stroke-width="1.2" stroke-dasharray="3.2 0.6"/>
<ellipse cx="871.6" cy="81.6" rx="2.14" ry="3.66" transform="rotate(30 871.6 81.6)" fill="none" stroke="#9a9a9a" stroke-width="0.6" />
<text x="871.4" y="58.5" font-size="12" fill="#111" stroke="#111" stroke-width="0.25" text-anchor="middle">8</text>
<line x1="871.4" y1="63.1" x2="871.4" y2="76.6" stroke="#1a1a1a" stroke-width="1.0"/>
<ellipse cx="883.25" cy="87.05" rx="3.27" ry="4.88" transform="rotate(30 883.25 87.05)" fill="#f4f4f4" stroke="#111" stroke-width="1.0" />
<ellipse cx="881.78" cy="86.2" rx="3.27" ry="4.88" transform="rotate(30 881.78 86.2)" fill="#f8f8f8" stroke="#111" stroke-width="1.0" />
<ellipse cx="881.78" cy="86.2" rx="1.77" ry="3.18" transform="rotate(30 881.78 86.2)" fill="#fff" stroke="#333" stroke-width="0.7" />
<circle cx="882.58" cy="82.12" r="1" fill="#111"/>
<line x1="882.5" y1="91.5" x2="882.5" y2="109.1" stroke="#1a1a1a" stroke-width="1.0"/>
<text x="882.4" y="121" font-size="12" fill="#111" stroke="#111" stroke-width="0.25" text-anchor="middle">5</text>
<path d="M891.04,94.26 L896.04,97.26 A2.28,3.8 30.96 0 0 899.96,90.74 L894.96,87.74 A2.28,3.8 30.96 0 0 891.04,94.26 Z" fill="#c8c8c8" stroke="#757575" stroke-width="0.7"/>
<ellipse cx="893" cy="91" rx="2.28" ry="3.8" transform="rotate(30.96 893 91)" fill="#c9c9c9" stroke="#757575" stroke-width="0.7" />
<path d="M894.3,103.04 L902.74,111.39 A7.8,13 28.81 0 0 915.26,88.61 L903.7,85.96 A5.85,9.75 28.81 0 0 894.3,103.04 Z" fill="#c1c1c1" stroke="#757575" stroke-width="0.7"/>
<ellipse cx="909" cy="100" rx="7.8" ry="13" transform="rotate(28.81 909 100)" fill="#c0c0c0" stroke="#757575" stroke-width="0.7" />
<ellipse cx="909" cy="100" rx="5.46" ry="9.1" transform="rotate(28.81 909 100)" fill="#a8a8a8" stroke="#757575" stroke-width="0.6" />
<text x="912.1" y="66.6" font-size="12" fill="#111" stroke="#111" stroke-width="0.25" text-anchor="middle">3</text>
<line x1="912.4" y1="69.6" x2="912.4" y2="87.7" stroke="#1a1a1a" stroke-width="1.0"/>
<path d="M946,78.5 Q946,76 949.5,75 L951.1,73.4 L956,73.4 L959.3,75 Q962.8,76 962.8,78.5 L962.8,103.4 Q962.8,104.9 960.8,105.4 L952.3,106.7 L948,104.9 Q946,104.2 946,102.4 Z" fill="#fff" stroke="#111" stroke-width="1.05"/>
<rect x="950.3" y="69.6" width="6.5" height="2.64" rx="0.8" fill="#fff" stroke="#111" stroke-width="0.95"/>
<path d="M951.1,72.24 L951.1,73.4 M956,72.24 L956,73.4" stroke="#111" stroke-width="0.9" fill="none"/>
<path d="M946.5,77.6 L952.3,79 L962.3,77.8" fill="none" stroke="#444" stroke-width="0.7"/>
<line x1="952.3" y1="79" x2="952.3" y2="106.4" stroke="#111" stroke-width="0.95"/>
<line x1="962.8" y1="92.4" x2="981.1" y2="92.4" stroke="#888" stroke-width="1.0"/>
<text x="983.2" y="94.9" font-size="12" fill="#111" stroke="#111" stroke-width="0.25" text-anchor="start">10</text>
<path d="M921.28,111.6 a10.92,14.45 0 1 0 21.85,0 a10.92,14.45 0 1 0 -21.85,0 Z M923.68,111.6 a8.52,11.45 0 1 0 17.05,0 a8.52,11.45 0 1 0 -17.05,0 Z" fill-rule="evenodd" fill="#c9c9c9" stroke="#6a6a6a" stroke-width="0.8" transform="rotate(30 932.2 111.6)"/>
<line x1="929.6" y1="125.5" x2="929.6" y2="147.2" stroke="#1a1a1a" stroke-width="1.0"/>
<text x="929.6" y="155" font-size="12" fill="#111" stroke="#111" stroke-width="0.25" text-anchor="middle">4</text>
<path d="M961.62,146.16 L976.42,154.66 A7.2,12 29.87 0 0 988.38,133.84 L973.58,125.34 A7.2,12 29.87 0 0 961.62,146.16 Z" fill="#c1c1c1" stroke="#757575" stroke-width="0.7"/>
<ellipse cx="967.6" cy="135.75" rx="7.2" ry="12" transform="rotate(29.87 967.6 135.75)" fill="#c8c8c8" stroke="#757575" stroke-width="0.7" />
<ellipse cx="972.53" cy="138.58" rx="7.2" ry="12" transform="rotate(29.87 972.53 138.58)" fill="none" stroke="#8d8d8d" stroke-width="0.5"/>
<ellipse cx="977.47" cy="141.42" rx="7.2" ry="12" transform="rotate(29.87 977.47 141.42)" fill="none" stroke="#8d8d8d" stroke-width="0.5"/>
<path d="M1004.56,151.5 L986.16,142 A2.7,4.5 -152.69 0 0 982.04,150 L1000.44,159.5 A2.7,4.5 -152.69 0 0 1004.56,151.5 Z" fill="#c8c8c8" stroke="#757575" stroke-width="0.7"/>
<ellipse cx="1002.5" cy="155.5" rx="2.7" ry="4.5" transform="rotate(-152.69 1002.5 155.5)" fill="#c9c9c9" stroke="#757575" stroke-width="0.7" />
<ellipse cx="993.67" cy="150.94" rx="2.56" ry="4.27" transform="rotate(-152.69 993.67 150.94)" fill="none" stroke="#999" stroke-width="0.5"/>
<ellipse cx="991.28" cy="149.71" rx="2.56" ry="4.27" transform="rotate(-152.69 991.28 149.71)" fill="none" stroke="#999" stroke-width="0.5"/>
<ellipse cx="988.88" cy="148.47" rx="2.56" ry="4.27" transform="rotate(-152.69 988.88 148.47)" fill="none" stroke="#999" stroke-width="0.5"/>
<ellipse cx="986.49" cy="147.24" rx="2.56" ry="4.27" transform="rotate(-152.69 986.49 147.24)" fill="none" stroke="#999" stroke-width="0.5"/>
<text x="978.9" y="182.6" font-size="12" fill="#111" stroke="#111" stroke-width="0.25" text-anchor="middle">2</text>
<line x1="979.7" y1="155.8" x2="979.7" y2="170.7" stroke="#888" stroke-width="1.0"/>
<ellipse cx="1015.7" cy="160.2" rx="3.44" ry="5.06" transform="rotate(30 1015.7 160.2)" fill="none" stroke="#111" stroke-width="1.2" stroke-dasharray="3.2 0.6"/>
<ellipse cx="1015.7" cy="160.2" rx="2.14" ry="3.66" transform="rotate(30 1015.7 160.2)" fill="none" stroke="#9a9a9a" stroke-width="0.6" />
<text x="1016.2" y="134.6" font-size="12.3" fill="#1414ae" stroke="#1414ae" stroke-width="0.3" text-anchor="middle">49557</text>
<line x1="1016.6" y1="137.2" x2="1016.6" y2="155" stroke="#1a1a1a" stroke-width="1.0"/>
<ellipse cx="226.4" cy="369.3" rx="3.44" ry="5.06" transform="rotate(30 226.4 369.3)" fill="none" stroke="#111" stroke-width="1.2" stroke-dasharray="3.2 0.6"/>
<ellipse cx="226.4" cy="369.3" rx="2.14" ry="3.66" transform="rotate(30 226.4 369.3)" fill="none" stroke="#9a9a9a" stroke-width="0.6" />
<line x1="224.5" y1="375" x2="224.5" y2="392.6" stroke="#1a1a1a" stroke-width="1.0"/>
<text x="224.3" y="403.6" font-size="12.3" fill="#1414ae" stroke="#1414ae" stroke-width="0.3" text-anchor="middle">49557</text>
<path d="M238.4,379.44 L247.18,383.47 A2.62,4.37 24.67 0 0 250.82,375.53 L242.05,371.5 A2.62,4.37 24.67 0 0 238.4,379.44 Z" fill="#bdbdbd" stroke="#757575" stroke-width="0.7"/>
<ellipse cx="242.42" cy="376.48" rx="2.51" ry="4.18" transform="rotate(24.67 242.42 376.48)" fill="none" stroke="#989898" stroke-width="0.5"/>
<ellipse cx="244.61" cy="377.49" rx="2.51" ry="4.18" transform="rotate(24.67 244.61 377.49)" fill="none" stroke="#989898" stroke-width="0.5"/>
<ellipse cx="246.81" cy="378.49" rx="2.51" ry="4.18" transform="rotate(24.67 246.81 378.49)" fill="none" stroke="#989898" stroke-width="0.5"/>
<path d="M233.83,376.93 L238.56,379.1 A2.39,3.99 24.67 0 0 241.89,371.84 L237.17,369.67 A2.39,3.99 24.67 0 0 233.83,376.93 Z" fill="#c4c4c4" stroke="#757575" stroke-width="0.7"/>
<ellipse cx="235.5" cy="373.3" rx="2.39" ry="3.99" transform="rotate(24.67 235.5 373.3)" fill="#cdcdcd" stroke="#757575" stroke-width="0.7" />
<path d="M249.37,393.41 L264.26,404.17 A7.2,12 30.21 0 0 276.34,383.43 L259.63,375.79 A6.12,10.2 30.21 0 0 249.37,393.41 Z" fill="#c0c0c0" stroke="#757575" stroke-width="0.7"/>
<ellipse cx="262.4" cy="389.2" rx="7.2" ry="12" transform="rotate(30.21 262.4 389.2)" fill="none" stroke="#9a9a9a" stroke-width="0.5"/>
<ellipse cx="270.3" cy="393.8" rx="7.2" ry="12" transform="rotate(30.21 270.3 393.8)" fill="#c9c9c9" stroke="#757575" stroke-width="0.7" />
<ellipse cx="266.98" cy="399.5" rx="2.3" ry="3.84" transform="rotate(30.21 266.98 399.5)" fill="#a8a8a8" stroke="#8a8a8a" stroke-width="0.5" />
<ellipse cx="269" cy="389.22" rx="2.3" ry="3.84" transform="rotate(30.21 269 389.22)" fill="#a8a8a8" stroke="#8a8a8a" stroke-width="0.5" />
<ellipse cx="274.92" cy="392.67" rx="2.3" ry="3.84" transform="rotate(30.21 274.92 392.67)" fill="#a8a8a8" stroke="#8a8a8a" stroke-width="0.5" />
<ellipse cx="270.3" cy="393.8" rx="2.16" ry="3.6" transform="rotate(30.21 270.3 393.8)" fill="#d6d6d6" stroke="#999" stroke-width="0.5" />
<text x="260.5" y="355.7" font-size="12" fill="#111" stroke="#111" stroke-width="0.25" text-anchor="middle">2</text>
<line x1="260.5" y1="358.3" x2="260.5" y2="374.2" stroke="#1a1a1a" stroke-width="1.0"/>
<ellipse cx="283.7" cy="403.3" rx="3.44" ry="5.06" transform="rotate(30 283.7 403.3)" fill="none" stroke="#111" stroke-width="1.2" stroke-dasharray="3.2 0.6"/>
<ellipse cx="283.7" cy="403.3" rx="2.14" ry="3.66" transform="rotate(30 283.7 403.3)" fill="none" stroke="#9a9a9a" stroke-width="0.6" />
<text x="284.1" y="376.7" font-size="12" fill="#111" stroke="#111" stroke-width="0.25" text-anchor="middle">8</text>
<line x1="284.1" y1="381" x2="284.1" y2="397.5" stroke="#1a1a1a" stroke-width="1.0"/>
<path d="M291.1,364.5 Q291.1,362 294.6,361 L296.2,359.4 L301.3,359.4 L304.4,361 Q307.9,362 307.9,364.5 L307.9,388.4 Q307.9,389.9 305.9,390.4 L297.8,391.7 L293.1,389.9 Q291.1,389.2 291.1,387.4 Z" fill="#fff" stroke="#111" stroke-width="1.05"/>
<rect x="295.4" y="354.7" width="6.7" height="3.18" rx="0.8" fill="#fff" stroke="#111" stroke-width="0.95"/>
<path d="M296.2,357.88 L296.2,359.4 M301.3,357.88 L301.3,359.4" stroke="#111" stroke-width="0.9" fill="none"/>
<path d="M291.6,363.6 L297.8,365 L307.4,363.8" fill="none" stroke="#444" stroke-width="0.7"/>
<line x1="297.8" y1="365" x2="297.8" y2="391.4" stroke="#111" stroke-width="0.95"/>
<line x1="307.9" y1="373" x2="324.9" y2="373" stroke="#888" stroke-width="1.0"/>
<text x="327.4" y="376.7" font-size="12" fill="#111" stroke="#111" stroke-width="0.25" text-anchor="start">12</text>
<path d="M293.16,412.9 a10.14,14.39 0 1 0 20.29,0 a10.14,14.39 0 1 0 -20.29,0 Z M295.56,412.9 a7.74,11.39 0 1 0 15.49,0 a7.74,11.39 0 1 0 -15.49,0 Z" fill-rule="evenodd" fill="#c9c9c9" stroke="#6a6a6a" stroke-width="0.8" transform="rotate(30 303.3 412.9)"/>
<line x1="300.1" y1="427" x2="300.1" y2="444.8" stroke="#1a1a1a" stroke-width="1.0"/>
<text x="300" y="454.7" font-size="12" fill="#111" stroke="#111" stroke-width="0.25" text-anchor="middle">4</text>
<path d="M323.55,436.56 L329.55,440.06 A7.68,12.8 30.26 0 0 342.45,417.94 L336.45,414.44 A7.68,12.8 30.26 0 0 323.55,436.56 Z" fill="#c1c1c1" stroke="#757575" stroke-width="0.7"/>
<ellipse cx="331.5" cy="426.38" rx="7.68" ry="12.8" transform="rotate(30.26 331.5 426.38)" fill="none" stroke="#8a8a8a" stroke-width="0.5"/>
<ellipse cx="333" cy="427.25" rx="7.68" ry="12.8" transform="rotate(30.26 333 427.25)" fill="none" stroke="#8a8a8a" stroke-width="0.5"/>
<ellipse cx="334.5" cy="428.12" rx="7.68" ry="12.8" transform="rotate(30.26 334.5 428.12)" fill="none" stroke="#8a8a8a" stroke-width="0.5"/>
<ellipse cx="330" cy="425.5" rx="7.68" ry="12.8" transform="rotate(30.26 330 425.5)" fill="#c8c8c8" stroke="#757575" stroke-width="0.7" />
<path d="M333.42,434.68 L337.82,436.68 A3.74,6.24 24.44 0 0 342.98,425.32 L338.58,423.32 A3.74,6.24 24.44 0 0 333.42,434.68 Z" fill="#c4c4c4" stroke="#757575" stroke-width="0.7"/>
<ellipse cx="340.4" cy="431" rx="3.74" ry="6.24" transform="rotate(24.44 340.4 431)" fill="#c9c9c9" stroke="#757575" stroke-width="0.7" />
<path d="M338.71,434.71 L345.31,437.71 A2.45,4.08 24.44 0 0 348.69,430.29 L342.09,427.29 A2.45,4.08 24.44 0 0 338.71,434.71 Z" fill="#c8c8c8" stroke="#757575" stroke-width="0.7"/>
<ellipse cx="347" cy="434" rx="2.45" ry="4.08" transform="rotate(24.44 347 434)" fill="#d0d0d0" stroke="#757575" stroke-width="0.7" />
<text x="336.5" y="396.5" font-size="12" fill="#111" stroke="#111" stroke-width="0.25" text-anchor="middle">3</text>
<line x1="336.5" y1="399.5" x2="336.5" y2="414.4" stroke="#1a1a1a" stroke-width="1.0"/>
<ellipse cx="361.95" cy="447.05" rx="3.27" ry="4.88" transform="rotate(30 361.95 447.05)" fill="#f4f4f4" stroke="#111" stroke-width="1.0" />
<ellipse cx="360.48" cy="446.2" rx="3.27" ry="4.88" transform="rotate(30 360.48 446.2)" fill="#f8f8f8" stroke="#111" stroke-width="1.0" />
<ellipse cx="360.48" cy="446.2" rx="1.77" ry="3.18" transform="rotate(30 360.48 446.2)" fill="#fff" stroke="#333" stroke-width="0.7" />
<circle cx="361.28" cy="442.12" r="1" fill="#111"/>
<line x1="360.3" y1="452" x2="360.3" y2="467.8" stroke="#1a1a1a" stroke-width="1.0"/>
<text x="359.8" y="481.6" font-size="12" fill="#111" stroke="#111" stroke-width="0.25" text-anchor="middle">5</text>
<path d="M387.67,467.5 L540.07,547.9 A1.93,3.5 27.81 0 0 543.33,541.7 L390.93,461.3 A1.93,3.5 27.81 0 0 387.67,467.5 Z" fill="#fff" stroke="#111" stroke-width="1.15"/>
<ellipse cx="389.3" cy="464.4" rx="1.93" ry="3.5" transform="rotate(27.81 389.3 464.4)" fill="#fff" stroke="#111" stroke-width="1.15" />
<ellipse cx="392.84" cy="466.27" rx="1.75" ry="3.5" transform="rotate(27.81 392.84 466.27)" fill="none" stroke="#777" stroke-width="0.5"/>
<ellipse cx="538.16" cy="542.93" rx="1.75" ry="3.5" transform="rotate(27.81 538.16 542.93)" fill="none" stroke="#777" stroke-width="0.5"/>
<ellipse cx="394.61" cy="467.2" rx="1.75" ry="3.5" transform="rotate(27.81 394.61 467.2)" fill="none" stroke="#777" stroke-width="0.5"/>
<ellipse cx="536.39" cy="542" rx="1.75" ry="3.5" transform="rotate(27.81 536.39 542)" fill="none" stroke="#777" stroke-width="0.5"/>
<ellipse cx="403.45" cy="471.87" rx="1.75" ry="3.5" transform="rotate(27.81 403.45 471.87)" fill="none" stroke="#777" stroke-width="0.5"/>
<ellipse cx="527.55" cy="537.33" rx="1.75" ry="3.5" transform="rotate(27.81 527.55 537.33)" fill="none" stroke="#777" stroke-width="0.5"/>
<ellipse cx="405.22" cy="472.8" rx="1.75" ry="3.5" transform="rotate(27.81 405.22 472.8)" fill="none" stroke="#777" stroke-width="0.5"/>
<ellipse cx="525.78" cy="536.4" rx="1.75" ry="3.5" transform="rotate(27.81 525.78 536.4)" fill="none" stroke="#777" stroke-width="0.5"/>
<ellipse cx="406.99" cy="473.73" rx="1.75" ry="3.5" transform="rotate(27.81 406.99 473.73)" fill="none" stroke="#777" stroke-width="0.5"/>
<ellipse cx="524.01" cy="535.47" rx="1.75" ry="3.5" transform="rotate(27.81 524.01 535.47)" fill="none" stroke="#777" stroke-width="0.5"/>
<text x="460.9" y="476.2" font-size="12" fill="#111" stroke="#111" stroke-width="0.25" text-anchor="middle">6</text>
<line x1="461" y1="480.5" x2="461" y2="498.3" stroke="#1a1a1a" stroke-width="1.0"/>
<ellipse cx="555.5" cy="552" rx="3.44" ry="5.06" transform="rotate(30 555.5 552)" fill="none" stroke="#111" stroke-width="1.2" stroke-dasharray="3.2 0.6"/>
<ellipse cx="555.5" cy="552" rx="2.14" ry="3.66" transform="rotate(30 555.5 552)" fill="none" stroke="#9a9a9a" stroke-width="0.6" />
<text x="555.7" y="525.7" font-size="12" fill="#111" stroke="#111" stroke-width="0.25" text-anchor="middle">8</text>
<line x1="555.7" y1="529.7" x2="555.7" y2="547.5" stroke="#1a1a1a" stroke-width="1.0"/>
<ellipse cx="573.65" cy="561.05" rx="3.27" ry="4.88" transform="rotate(30 573.65 561.05)" fill="#f4f4f4" stroke="#111" stroke-width="1.0" />
<ellipse cx="572.18" cy="560.2" rx="3.27" ry="4.88" transform="rotate(30 572.18 560.2)" fill="#f8f8f8" stroke="#111" stroke-width="1.0" />
<ellipse cx="572.18" cy="560.2" rx="1.77" ry="3.18" transform="rotate(30 572.18 560.2)" fill="#fff" stroke="#333" stroke-width="0.7" />
<circle cx="572.98" cy="556.12" r="1" fill="#111"/>
<line x1="572.2" y1="565.5" x2="572.2" y2="582.9" stroke="#1a1a1a" stroke-width="1.0"/>
<text x="572" y="594" font-size="12" fill="#111" stroke="#111" stroke-width="0.25" text-anchor="middle">5</text>
<path d="M582.92,566.06 L584.62,566.96 L584.58,569.09 L587.37,573.1 L590.46,577.56 L593.95,581.28 L596.71,583.79 L600.03,585.25 A7.64,12.74 27.95 0 0 611.97,562.75 L608.9,560.82 L605.27,559.94 L600.24,559.14 L594.81,559.08 L589.93,559.02 L588.18,560.25 L586.48,559.34 A2.28,3.8 27.95 0 0 582.92,566.06 Z" fill="#c0c0c0" stroke="#747474" stroke-width="0.7" stroke-linejoin="round"/>
<path d="M585.6,570.26 A3.87,6.25 27.95 0 0 591.46,559.21" fill="none" stroke="#8c8c8c" stroke-width="0.6"/>
<path d="M587.79,573.33 A4.91,7.94 27.95 0 0 595.24,559.3" fill="none" stroke="#8c8c8c" stroke-width="0.6"/>
<path d="M589.99,576.4 A5.96,9.63 27.95 0 0 599.01,559.39" fill="none" stroke="#8c8c8c" stroke-width="0.6"/>
<path d="M592.36,579.12 A6.75,10.91 27.95 0 0 602.6,559.84" fill="none" stroke="#8c8c8c" stroke-width="0.6"/>
<path d="M594.86,581.62 A7.4,11.96 27.95 0 0 606.06,560.5" fill="none" stroke="#8c8c8c" stroke-width="0.6"/>
<ellipse cx="584.7" cy="562.7" rx="2.28" ry="3.8" transform="rotate(27.95 584.7 562.7)" fill="#cacaca" stroke="#757575" stroke-width="0.6" />
<text x="602.6" y="540.7" font-size="12" fill="#111" stroke="#111" stroke-width="0.25" text-anchor="middle">3</text>
<line x1="602.6" y1="544" x2="602.6" y2="560" stroke="#1a1a1a" stroke-width="1.0"/>
<path d="M616.39,587.8 a9.71,15.72 0 1 0 19.41,0 a9.71,15.72 0 1 0 -19.41,0 Z M618.79,587.8 a7.31,12.72 0 1 0 14.61,0 a7.31,12.72 0 1 0 -14.61,0 Z" fill-rule="evenodd" fill="#c9c9c9" stroke="#6a6a6a" stroke-width="0.8" transform="rotate(30 626.1 587.8)"/>
<line x1="620.4" y1="602.6" x2="620.4" y2="617.3" stroke="#1a1a1a" stroke-width="1.0"/>
<text x="620.4" y="628.9" font-size="12" fill="#111" stroke="#111" stroke-width="0.25" text-anchor="middle">4</text>
<path d="M643.3,547.4 Q643.3,544.9 646.8,543.9 L649,542.3 L653.6,542.3 L657.2,543.9 Q660.7,544.9 660.7,547.4 L660.7,570.5 Q660.7,572 658.7,572.5 L651.2,573.8 L645.3,572 Q643.3,571.3 643.3,569.5 Z" fill="#fff" stroke="#111" stroke-width="1.05"/>
<rect x="648.2" y="537.1" width="6.2" height="3.48" rx="0.8" fill="#fff" stroke="#111" stroke-width="0.95"/>
<path d="M649,540.58 L649,542.3 M653.6,540.58 L653.6,542.3" stroke="#111" stroke-width="0.9" fill="none"/>
<path d="M643.8,546.5 L651.2,547.9 L660.2,546.7" fill="none" stroke="#444" stroke-width="0.7"/>
<line x1="651.2" y1="547.9" x2="651.2" y2="573.5" stroke="#111" stroke-width="0.95"/>
<line x1="660.7" y1="551.5" x2="677.6" y2="551.5" stroke="#888" stroke-width="1.0"/>
<text x="681.2" y="555.6" font-size="12" fill="#111" stroke="#111" stroke-width="0.25" text-anchor="start">11</text>
<path d="M655.72,617.51 L665.52,623.21 A7.5,12.5 30.18 0 0 678.08,601.59 L668.28,595.89 A7.5,12.5 30.18 0 0 655.72,617.51 Z" fill="#c1c1c1" stroke="#757575" stroke-width="0.7"/>
<ellipse cx="663.63" cy="607.65" rx="7.5" ry="12.5" transform="rotate(30.18 663.63 607.65)" fill="none" stroke="#8d8d8d" stroke-width="0.5"/>
<ellipse cx="665.27" cy="608.6" rx="7.5" ry="12.5" transform="rotate(30.18 665.27 608.6)" fill="none" stroke="#8d8d8d" stroke-width="0.5"/>
<ellipse cx="666.9" cy="609.55" rx="7.5" ry="12.5" transform="rotate(30.18 666.9 609.55)" fill="none" stroke="#8d8d8d" stroke-width="0.5"/>
<ellipse cx="668.53" cy="610.5" rx="7.5" ry="12.5" transform="rotate(30.18 668.53 610.5)" fill="none" stroke="#8d8d8d" stroke-width="0.5"/>
<ellipse cx="670.17" cy="611.45" rx="7.5" ry="12.5" transform="rotate(30.18 670.17 611.45)" fill="none" stroke="#8d8d8d" stroke-width="0.5"/>
<ellipse cx="662" cy="606.7" rx="7.5" ry="12.5" transform="rotate(30.18 662 606.7)" fill="#c8c8c8" stroke="#757575" stroke-width="0.7" />
<ellipse cx="662" cy="606.7" rx="6" ry="10" transform="rotate(30.18 662 606.7)" fill="none" stroke="#999" stroke-width="0.5" />
<path d="M696.62,620.88 L676.12,608.88 A2.52,4.2 -149.66 0 0 671.88,616.12 L692.38,628.12 A2.52,4.2 -149.66 0 0 696.62,620.88 Z" fill="#c8c8c8" stroke="#757575" stroke-width="0.7"/>
<ellipse cx="694.5" cy="624.5" rx="2.52" ry="4.2" transform="rotate(-149.66 694.5 624.5)" fill="#c9c9c9" stroke="#757575" stroke-width="0.7" />
<ellipse cx="684.66" cy="618.74" rx="2.39" ry="3.99" transform="rotate(-149.66 684.66 618.74)" fill="none" stroke="#999" stroke-width="0.5"/>
<ellipse cx="682" cy="617.18" rx="2.39" ry="3.99" transform="rotate(-149.66 682 617.18)" fill="none" stroke="#999" stroke-width="0.5"/>
<ellipse cx="679.33" cy="615.62" rx="2.39" ry="3.99" transform="rotate(-149.66 679.33 615.62)" fill="none" stroke="#999" stroke-width="0.5"/>
<ellipse cx="676.66" cy="614.06" rx="2.39" ry="3.99" transform="rotate(-149.66 676.66 614.06)" fill="none" stroke="#999" stroke-width="0.5"/>
<text x="675" y="580.6" font-size="12" fill="#111" stroke="#111" stroke-width="0.25" text-anchor="middle">1</text>
<line x1="675" y1="583" x2="675" y2="599.4" stroke="#999" stroke-width="1.0"/>
<path d="M231.1,484.1 Q231.1,481.6 234.6,480.6 L236.2,479 L241.4,479 L244.4,480.6 Q247.9,481.6 247.9,484.1 L247.9,507.4 Q247.9,508.9 245.9,509.4 L237.7,510.7 L233.1,508.9 Q231.1,508.2 231.1,506.4 Z" fill="#fff" stroke="#111" stroke-width="1.05"/>
<rect x="235.4" y="473.9" width="6.8" height="3.42" rx="0.8" fill="#fff" stroke="#111" stroke-width="0.95"/>
<path d="M236.2,477.32 L236.2,479 M241.4,477.32 L241.4,479" stroke="#111" stroke-width="0.9" fill="none"/>
<path d="M231.6,483.2 L237.7,484.6 L247.4,483.4" fill="none" stroke="#444" stroke-width="0.7"/>
<line x1="237.7" y1="484.6" x2="237.7" y2="510.4" stroke="#111" stroke-width="0.95"/>
<line x1="247.9" y1="491.9" x2="265.6" y2="491.9" stroke="#888" stroke-width="1.0"/>
<text x="267.9" y="496" font-size="12" fill="#111" stroke="#111" stroke-width="0.25" text-anchor="start">12</text>
<ellipse cx="223.4" cy="522.1" rx="3.44" ry="5.06" transform="rotate(30 223.4 522.1)" fill="none" stroke="#111" stroke-width="1.2" stroke-dasharray="3.2 0.6"/>
<ellipse cx="223.4" cy="522.1" rx="2.14" ry="3.66" transform="rotate(30 223.4 522.1)" fill="none" stroke="#9a9a9a" stroke-width="0.6" />
<text x="224" y="496" font-size="12" fill="#111" stroke="#111" stroke-width="0.25" text-anchor="middle">8</text>
<line x1="223.6" y1="500.1" x2="223.6" y2="517.2" stroke="#1a1a1a" stroke-width="1.0"/>
<ellipse cx="213.5" cy="517" rx="3.44" ry="5.06" transform="rotate(30 213.5 517)" fill="none" stroke="#111" stroke-width="1.2" stroke-dasharray="3.2 0.6"/>
<ellipse cx="213.5" cy="517" rx="2.14" ry="3.66" transform="rotate(30 213.5 517)" fill="none" stroke="#9a9a9a" stroke-width="0.6" />
<line x1="211.9" y1="522.5" x2="211.9" y2="539.1" stroke="#888" stroke-width="1.0"/>
<text x="211" y="552" font-size="12.3" fill="#1414ae" stroke="#1414ae" stroke-width="0.3" text-anchor="middle">49557</text>
<path d="M227.93,527.5 a9.47,14.54 0 1 0 18.93,0 a9.47,14.54 0 1 0 -18.93,0 Z M230.33,527.5 a7.07,11.54 0 1 0 14.13,0 a7.07,11.54 0 1 0 -14.13,0 Z" fill-rule="evenodd" fill="#c9c9c9" stroke="#6a6a6a" stroke-width="0.8" transform="rotate(30 237.4 527.5)"/>
<line x1="235.1" y1="541.4" x2="235.1" y2="557.6" stroke="#1a1a1a" stroke-width="1.0"/>
<text x="235.1" y="569.7" font-size="12" fill="#111" stroke="#111" stroke-width="0.25" text-anchor="middle">4</text>
<ellipse cx="252.55" cy="534.95" rx="3.27" ry="4.88" transform="rotate(30 252.55 534.95)" fill="#f4f4f4" stroke="#111" stroke-width="1.0" />
<ellipse cx="251.08" cy="534.1" rx="3.27" ry="4.88" transform="rotate(30 251.08 534.1)" fill="#f8f8f8" stroke="#111" stroke-width="1.0" />
<ellipse cx="251.08" cy="534.1" rx="1.77" ry="3.18" transform="rotate(30 251.08 534.1)" fill="#fff" stroke="#333" stroke-width="0.7" />
<circle cx="251.88" cy="530.02" r="1" fill="#111"/>
<line x1="251.3" y1="539.4" x2="251.3" y2="557.6" stroke="#1a1a1a" stroke-width="1.0"/>
<text x="251.3" y="569.7" font-size="12" fill="#111" stroke="#111" stroke-width="0.25" text-anchor="middle">5</text>
<path d="M259.63,543.07 L408.13,633.57 A2.16,3.6 31.36 0 0 411.87,627.43 L263.37,536.93 A2.16,3.6 31.36 0 0 259.63,543.07 Z" fill="#bababa" stroke="#666" stroke-width="0.75"/>
<line x1="262.06" y1="539.08" x2="410.56" y2="629.58" stroke="#cccccc" stroke-width="1.9800000000000002"/>
<path d="M405.34,632.37 L406.34,633.01 L405.77,635.01 L407.03,637.99 L408.29,641.52 L409.97,644.41 L411.39,646.33 L413.4,647.32 A7.35,12.25 32.62 0 0 426.6,626.68 L424.86,625.27 L422.53,624.79 L419.21,624.48 L415.47,624.81 L412.23,624.91 L410.66,626.27 L409.66,625.63 A2.4,4 32.62 0 0 405.34,632.37 Z" fill="#c0c0c0" stroke="#747474" stroke-width="0.7" stroke-linejoin="round"/>
<path d="M406.29,635.84 A3.96,6.41 32.62 0 0 413.21,625.04" fill="none" stroke="#8c8c8c" stroke-width="0.6"/>
<path d="M407.29,638.14 A4.83,7.81 32.62 0 0 415.71,624.98" fill="none" stroke="#8c8c8c" stroke-width="0.6"/>
<path d="M408.2,640.57 A5.8,9.37 32.62 0 0 418.3,624.79" fill="none" stroke="#8c8c8c" stroke-width="0.6"/>
<path d="M409.31,642.69 A6.53,10.56 32.62 0 0 420.69,624.91" fill="none" stroke="#8c8c8c" stroke-width="0.6"/>
<path d="M410.54,644.62 A7.13,11.52 32.62 0 0 422.96,625.22" fill="none" stroke="#8c8c8c" stroke-width="0.6"/>
<ellipse cx="407.5" cy="629" rx="2.4" ry="4" transform="rotate(32.62 407.5 629)" fill="#cacaca" stroke="#757575" stroke-width="0.6" />
<path d="M413.71,648.61 L425.71,655.11 A7.92,13.2 28.44 0 0 438.29,631.89 L426.29,625.39 A7.92,13.2 28.44 0 0 413.71,648.61 Z" fill="#c1c1c1" stroke="#757575" stroke-width="0.7"/>
<ellipse cx="432" cy="643.5" rx="7.92" ry="13.2" transform="rotate(30 432 643.5)" fill="#c8c8c8" stroke="#757575" stroke-width="0.7" />
<ellipse cx="432" cy="643.5" rx="5.54" ry="9.24" transform="rotate(30 432 643.5)" fill="#c4c4c4" stroke="#8a8a8a" stroke-width="0.6" />
<path d="M458.41,652.26 L435.91,640.76 A2.52,4.2 -152.93 0 0 432.09,648.24 L454.59,659.74 A2.52,4.2 -152.93 0 0 458.41,652.26 Z" fill="#c8c8c8" stroke="#757575" stroke-width="0.7"/>
<ellipse cx="456.5" cy="656" rx="2.52" ry="4.2" transform="rotate(-152.93 456.5 656)" fill="#c9c9c9" stroke="#757575" stroke-width="0.7" />
<ellipse cx="445.7" cy="650.48" rx="2.39" ry="3.99" transform="rotate(-152.93 445.7 650.48)" fill="none" stroke="#999" stroke-width="0.5"/>
<ellipse cx="442.77" cy="648.99" rx="2.39" ry="3.99" transform="rotate(-152.93 442.77 648.99)" fill="none" stroke="#999" stroke-width="0.5"/>
<ellipse cx="439.85" cy="647.49" rx="2.39" ry="3.99" transform="rotate(-152.93 439.85 647.49)" fill="none" stroke="#999" stroke-width="0.5"/>
<ellipse cx="436.93" cy="646" rx="2.39" ry="3.99" transform="rotate(-152.93 436.93 646)" fill="none" stroke="#999" stroke-width="0.5"/>
<path d="M417.1,593.8 Q417.1,591.3 420.6,590.3 L422.1,588.7 L427.1,588.7 L430.4,590.3 Q433.9,591.3 433.9,593.8 L433.9,617.9 Q433.9,619.4 431.9,619.9 L423.7,621.2 L419.1,619.4 Q417.1,618.7 417.1,616.9 Z" fill="#fff" stroke="#111" stroke-width="1.05"/>
<rect x="421.3" y="584.1" width="6.6" height="3.12" rx="0.8" fill="#fff" stroke="#111" stroke-width="0.95"/>
<path d="M422.1,587.22 L422.1,588.7 M427.1,587.22 L427.1,588.7" stroke="#111" stroke-width="0.9" fill="none"/>
<path d="M417.6,592.9 L423.7,594.3 L433.4,593.1" fill="none" stroke="#444" stroke-width="0.7"/>
<line x1="423.7" y1="594.3" x2="423.7" y2="620.9" stroke="#111" stroke-width="0.95"/>
<line x1="433.9" y1="599.2" x2="451.5" y2="599.2" stroke="#1a1a1a" stroke-width="1.0"/>
<text x="455" y="602.7" font-size="12" fill="#111" stroke="#111" stroke-width="0.25" text-anchor="start">11</text>
<ellipse cx="57.6" cy="589.2" rx="3.44" ry="5.06" transform="rotate(30 57.6 589.2)" fill="none" stroke="#111" stroke-width="1.2" stroke-dasharray="3.2 0.6"/>
<ellipse cx="57.6" cy="589.2" rx="2.14" ry="3.66" transform="rotate(30 57.6 589.2)" fill="none" stroke="#9a9a9a" stroke-width="0.6" />
<line x1="57" y1="594.5" x2="57" y2="612.6" stroke="#888" stroke-width="1.0"/>
<text x="56.9" y="623.8" font-size="12.3" fill="#1414ae" stroke="#1414ae" stroke-width="0.3" text-anchor="middle">49557</text>
<path d="M71.35,597.26 L80.32,602.14 A2.48,4.14 28.52 0 0 84.28,594.86 L75.31,589.99 A2.48,4.14 28.52 0 0 71.35,597.26 Z" fill="#bdbdbd" stroke="#757575" stroke-width="0.7"/>
<ellipse cx="75.57" cy="594.84" rx="2.38" ry="3.96" transform="rotate(28.52 75.57 594.84)" fill="none" stroke="#989898" stroke-width="0.5"/>
<ellipse cx="77.81" cy="596.06" rx="2.38" ry="3.96" transform="rotate(28.52 77.81 596.06)" fill="none" stroke="#989898" stroke-width="0.5"/>
<ellipse cx="80.06" cy="597.28" rx="2.38" ry="3.96" transform="rotate(28.52 80.06 597.28)" fill="none" stroke="#989898" stroke-width="0.5"/>
<path d="M66.69,594.32 L71.52,596.95 A2.27,3.78 28.52 0 0 75.14,590.3 L70.31,587.68 A2.27,3.78 28.52 0 0 66.69,594.32 Z" fill="#c4c4c4" stroke="#757575" stroke-width="0.7"/>
<ellipse cx="68.5" cy="591" rx="2.27" ry="3.78" transform="rotate(28.52 68.5 591)" fill="#cdcdcd" stroke="#757575" stroke-width="0.7" />
<path d="M83.32,612.24 L98.42,623 A7.2,12 29.9 0 0 110.38,602.2 L93.48,594.56 A6.12,10.2 29.9 0 0 83.32,612.24 Z" fill="#c0c0c0" stroke="#757575" stroke-width="0.7"/>
<ellipse cx="96.4" cy="608" rx="7.2" ry="12" transform="rotate(29.9 96.4 608)" fill="none" stroke="#9a9a9a" stroke-width="0.5"/>
<ellipse cx="104.4" cy="612.6" rx="7.2" ry="12" transform="rotate(29.9 104.4 612.6)" fill="#c9c9c9" stroke="#757575" stroke-width="0.7" />
<ellipse cx="101.11" cy="618.32" rx="2.3" ry="3.84" transform="rotate(29.9 101.11 618.32)" fill="#a8a8a8" stroke="#8a8a8a" stroke-width="0.5" />
<ellipse cx="103.07" cy="608.03" rx="2.3" ry="3.84" transform="rotate(29.9 103.07 608.03)" fill="#a8a8a8" stroke="#8a8a8a" stroke-width="0.5" />
<ellipse cx="109.02" cy="611.45" rx="2.3" ry="3.84" transform="rotate(29.9 109.02 611.45)" fill="#a8a8a8" stroke="#8a8a8a" stroke-width="0.5" />
<ellipse cx="104.4" cy="612.6" rx="2.16" ry="3.6" transform="rotate(29.9 104.4 612.6)" fill="#d6d6d6" stroke="#999" stroke-width="0.5" />
<text x="92" y="574.9" font-size="12" fill="#111" stroke="#111" stroke-width="0.25" text-anchor="middle">2</text>
<line x1="91.7" y1="578.2" x2="91.7" y2="592.5" stroke="#1a1a1a" stroke-width="1.0"/>
<path d="M122.5,584.5 Q122.5,582 126,581 L128,579.4 L132.3,579.4 L135.8,581 Q139.3,582 139.3,584.5 L139.3,608.2 Q139.3,609.7 137.3,610.2 L128.3,611.5 L124.5,609.7 Q122.5,609 122.5,607.2 Z" fill="#fff" stroke="#111" stroke-width="1.05"/>
<rect x="127.2" y="574.9" width="5.9" height="3.06" rx="0.8" fill="#fff" stroke="#111" stroke-width="0.95"/>
<path d="M128,577.96 L128,579.4 M132.3,577.96 L132.3,579.4" stroke="#111" stroke-width="0.9" fill="none"/>
<path d="M123,583.6 L128.3,585 L138.8,583.8" fill="none" stroke="#444" stroke-width="0.7"/>
<line x1="128.3" y1="585" x2="128.3" y2="611.2" stroke="#111" stroke-width="0.95"/>
<line x1="139.3" y1="591" x2="157" y2="591" stroke="#1a1a1a" stroke-width="1.0"/>
<text x="157.6" y="594.3" font-size="12" fill="#111" stroke="#111" stroke-width="0.25" text-anchor="start">10</text>
<path d="M126.22,633.2 a8.68,12.11 0 1 0 17.36,0 a8.68,12.11 0 1 0 -17.36,0 Z M127.34,633.2 a7.56,10.71 0 1 0 15.12,0 a7.56,10.71 0 1 0 -15.12,0 Z" fill-rule="evenodd" fill="#b0b0b0" stroke="#222" stroke-width="0.9" transform="rotate(30 134.9 633.2)"/>
<line x1="132.6" y1="645" x2="132.6" y2="663.5" stroke="#1a1a1a" stroke-width="1.0"/>
<text x="132.6" y="675.1" font-size="12" fill="#111" stroke="#111" stroke-width="0.25" text-anchor="middle">4</text>
<path d="M149.35,659.04 L155.35,662.54 A7.32,12.2 30.26 0 0 167.65,641.46 L161.65,637.96 A7.32,12.2 30.26 0 0 149.35,659.04 Z" fill="#c1c1c1" stroke="#757575" stroke-width="0.7"/>
<ellipse cx="157" cy="649.38" rx="7.32" ry="12.2" transform="rotate(30.26 157 649.38)" fill="none" stroke="#8a8a8a" stroke-width="0.5"/>
<ellipse cx="158.5" cy="650.25" rx="7.32" ry="12.2" transform="rotate(30.26 158.5 650.25)" fill="none" stroke="#8a8a8a" stroke-width="0.5"/>
<ellipse cx="160" cy="651.12" rx="7.32" ry="12.2" transform="rotate(30.26 160 651.12)" fill="none" stroke="#8a8a8a" stroke-width="0.5"/>
<ellipse cx="155.5" cy="648.5" rx="7.32" ry="12.2" transform="rotate(30.26 155.5 648.5)" fill="#c8c8c8" stroke="#757575" stroke-width="0.7" />
<path d="M159.08,657.33 L163.48,659.33 A3.51,5.85 24.44 0 0 168.32,648.67 L163.92,646.67 A3.51,5.85 24.44 0 0 159.08,657.33 Z" fill="#c4c4c4" stroke="#757575" stroke-width="0.7"/>
<ellipse cx="165.9" cy="654" rx="3.51" ry="5.85" transform="rotate(24.44 165.9 654)" fill="#c9c9c9" stroke="#757575" stroke-width="0.7" />
<path d="M164.32,657.48 L170.92,660.48 A2.29,3.82 24.44 0 0 174.08,653.52 L167.48,650.52 A2.29,3.82 24.44 0 0 164.32,657.48 Z" fill="#c8c8c8" stroke="#757575" stroke-width="0.7"/>
<ellipse cx="172.5" cy="657" rx="2.29" ry="3.82" transform="rotate(24.44 172.5 657)" fill="#d0d0d0" stroke="#757575" stroke-width="0.7" />
<text x="158" y="614.7" font-size="12" fill="#111" stroke="#111" stroke-width="0.25" text-anchor="middle">3</text>
<line x1="158" y1="619.5" x2="158" y2="636.1" stroke="#1a1a1a" stroke-width="1.0"/>
<ellipse cx="183.95" cy="661.95" rx="3.27" ry="4.88" transform="rotate(30 183.95 661.95)" fill="#f4f4f4" stroke="#111" stroke-width="1.0" />
<ellipse cx="182.48" cy="661.1" rx="3.27" ry="4.88" transform="rotate(30 182.48 661.1)" fill="#f8f8f8" stroke="#111" stroke-width="1.0" />
<ellipse cx="182.48" cy="661.1" rx="1.77" ry="3.18" transform="rotate(30 182.48 661.1)" fill="#fff" stroke="#333" stroke-width="0.7" />
<circle cx="183.28" cy="657.02" r="1" fill="#111"/>
<line x1="181.7" y1="666.7" x2="181.7" y2="683.5" stroke="#888" stroke-width="1.0"/>
<text x="181.7" y="697" font-size="12" fill="#111" stroke="#111" stroke-width="0.25" text-anchor="middle">5</text>
<ellipse cx="193.5" cy="666.3" rx="3.44" ry="5.06" transform="rotate(30 193.5 666.3)" fill="none" stroke="#111" stroke-width="1.2" stroke-dasharray="3.2 0.6"/>
<ellipse cx="193.5" cy="666.3" rx="2.14" ry="3.66" transform="rotate(30 193.5 666.3)" fill="none" stroke="#9a9a9a" stroke-width="0.6" />
<text x="193.7" y="640.7" font-size="12" fill="#111" stroke="#111" stroke-width="0.25" text-anchor="middle">8</text>
<line x1="193.7" y1="644" x2="193.7" y2="661.8" stroke="#1a1a1a" stroke-width="1.0"/>
<ellipse cx="787.2" cy="597.9" rx="3.66" ry="4.37" transform="rotate(30 787.2 597.9)" fill="none" stroke="#111" stroke-width="1.2" stroke-dasharray="3.2 0.6"/>
<ellipse cx="787.2" cy="597.9" rx="2.36" ry="2.97" transform="rotate(30 787.2 597.9)" fill="none" stroke="#9a9a9a" stroke-width="0.6" />
<line x1="786.1" y1="603" x2="786.1" y2="620.8" stroke="#1a1a1a" stroke-width="1.0"/>
<text x="785.8" y="631.9" font-size="12.3" fill="#1414ae" stroke="#1414ae" stroke-width="0.3" text-anchor="middle">49557</text>
<ellipse cx="798.5" cy="604.7" rx="3.44" ry="5.06" transform="rotate(30 798.5 604.7)" fill="none" stroke="#111" stroke-width="1.2" stroke-dasharray="3.2 0.6"/>
<ellipse cx="798.5" cy="604.7" rx="2.14" ry="3.66" transform="rotate(30 798.5 604.7)" fill="none" stroke="#9a9a9a" stroke-width="0.6" />
<text x="799.3" y="581.9" font-size="12" fill="#111" stroke="#111" stroke-width="0.25" text-anchor="middle">8</text>
<line x1="798.8" y1="585.7" x2="798.8" y2="600" stroke="#1a1a1a" stroke-width="1.0"/>
<ellipse cx="812.65" cy="610.55" rx="3.27" ry="4.88" transform="rotate(30 812.65 610.55)" fill="#f4f4f4" stroke="#111" stroke-width="1.0" />
<ellipse cx="811.18" cy="609.7" rx="3.27" ry="4.88" transform="rotate(30 811.18 609.7)" fill="#f8f8f8" stroke="#111" stroke-width="1.0" />
<ellipse cx="811.18" cy="609.7" rx="1.77" ry="3.18" transform="rotate(30 811.18 609.7)" fill="#fff" stroke="#333" stroke-width="0.7" />
<circle cx="811.98" cy="605.62" r="1" fill="#111"/>
<line x1="811.5" y1="615" x2="811.5" y2="633.5" stroke="#1a1a1a" stroke-width="1.0"/>
<text x="811.5" y="645.1" font-size="12" fill="#111" stroke="#111" stroke-width="0.25" text-anchor="middle">5</text>
<path d="M822.43,616.68 L824.09,617.62 L823.93,619.83 L826.65,623.72 L829.59,628.17 L832.94,631.92 L835.6,634.46 L838.83,635.99 A7.64,12.74 29.48 0 0 851.37,613.81 L848.39,611.83 L844.84,610.86 L839.91,609.93 L834.57,609.7 L829.84,609.38 L828.02,610.65 L826.37,609.72 A2.4,4 29.48 0 0 822.43,616.68 Z" fill="#c0c0c0" stroke="#747474" stroke-width="0.7" stroke-linejoin="round"/>
<path d="M824.94,620.95 A4.01,6.48 29.48 0 0 831.32,609.66" fill="none" stroke="#8c8c8c" stroke-width="0.6"/>
<path d="M827.07,623.95 A4.98,8.04 29.48 0 0 834.98,609.94" fill="none" stroke="#8c8c8c" stroke-width="0.6"/>
<path d="M829.15,627.02 A6,9.69 29.48 0 0 838.69,610.14" fill="none" stroke="#8c8c8c" stroke-width="0.6"/>
<path d="M831.43,629.75 A6.77,10.95 29.48 0 0 842.21,610.69" fill="none" stroke="#8c8c8c" stroke-width="0.6"/>
<path d="M833.83,632.28 A7.4,11.97 29.48 0 0 845.61,611.44" fill="none" stroke="#8c8c8c" stroke-width="0.6"/>
<ellipse cx="824.4" cy="613.2" rx="2.4" ry="4" transform="rotate(29.48 824.4 613.2)" fill="#cacaca" stroke="#757575" stroke-width="0.6" />
<text x="837.6" y="590.6" font-size="12" fill="#111" stroke="#111" stroke-width="0.25" text-anchor="middle">3</text>
<line x1="837.3" y1="594.8" x2="837.3" y2="610.4" stroke="#1a1a1a" stroke-width="1.0"/>
<path d="M858.2,595.6 Q858.2,593.1 861.7,592.1 L863.2,590.5 L869,590.5 L871.3,592.1 Q874.8,593.1 874.8,595.6 L874.8,618.5 Q874.8,620 872.8,620.5 L864.9,621.8 L860.2,620 Q858.2,619.3 858.2,617.5 Z" fill="#fff" stroke="#111" stroke-width="1.05"/>
<rect x="862.4" y="585.8" width="7.4" height="3.18" rx="0.8" fill="#fff" stroke="#111" stroke-width="0.95"/>
<path d="M863.2,588.98 L863.2,590.5 M869,588.98 L869,590.5" stroke="#111" stroke-width="0.9" fill="none"/>
<path d="M858.7,594.7 L864.9,596.1 L874.3,594.9" fill="none" stroke="#444" stroke-width="0.7"/>
<line x1="864.9" y1="596.1" x2="864.9" y2="621.5" stroke="#111" stroke-width="0.95"/>
<line x1="874.8" y1="607.6" x2="892.1" y2="607.6" stroke="#888" stroke-width="1.0"/>
<text x="893.7" y="610.4" font-size="12" fill="#111" stroke="#111" stroke-width="0.25" text-anchor="start">10</text>
<path d="M852.9,638.3 a8.5,12.66 0 1 0 17,0 a8.5,12.66 0 1 0 -17,0 Z M854.02,638.3 a7.38,11.26 0 1 0 14.76,0 a7.38,11.26 0 1 0 -14.76,0 Z" fill-rule="evenodd" fill="#b0b0b0" stroke="#222" stroke-width="0.9" transform="rotate(30 861.4 638.3)"/>
<line x1="858.2" y1="650.5" x2="858.2" y2="666.5" stroke="#1a1a1a" stroke-width="1.0"/>
<text x="858.2" y="678.9" font-size="12" fill="#111" stroke="#111" stroke-width="0.25" text-anchor="middle">4</text>
<path d="M941.2,491.4 Q941.2,488.9 944.7,487.9 L945.8,486.3 L950,486.3 L954.2,487.9 Q957.7,488.9 957.7,491.4 L957.7,514.8 Q957.7,516.3 955.7,516.8 L947,518.1 L943.2,516.3 Q941.2,515.6 941.2,513.8 Z" fill="#fff" stroke="#111" stroke-width="1.05"/>
<rect x="945" y="481.4" width="5.8" height="3.3" rx="0.8" fill="#fff" stroke="#111" stroke-width="0.95"/>
<path d="M945.8,484.7 L945.8,486.3 M950,484.7 L950,486.3" stroke="#111" stroke-width="0.9" fill="none"/>
<path d="M941.7,490.5 L947,491.9 L957.2,490.7" fill="none" stroke="#444" stroke-width="0.7"/>
<line x1="947" y1="491.9" x2="947" y2="517.8" stroke="#111" stroke-width="0.95"/>
<line x1="957.7" y1="497.2" x2="975.5" y2="497.2" stroke="#888" stroke-width="1.0"/>
<text x="977" y="500.4" font-size="12" fill="#111" stroke="#111" stroke-width="0.25" text-anchor="start">10</text>
<path d="M945.67,539.8 a9.33,14.51 0 1 0 18.65,0 a9.33,14.51 0 1 0 -18.65,0 Z M948.07,539.8 a6.93,11.51 0 1 0 13.85,0 a6.93,11.51 0 1 0 -13.85,0 Z" fill-rule="evenodd" fill="#c9c9c9" stroke="#6a6a6a" stroke-width="0.8" transform="rotate(30 955 539.8)"/>
<line x1="951.4" y1="553.6" x2="951.4" y2="570.4" stroke="#1a1a1a" stroke-width="1.0"/>
<text x="951.4" y="581.9" font-size="12" fill="#111" stroke="#111" stroke-width="0.25" text-anchor="middle">4</text>
<path d="M970.2,563.3 L976.2,566.8 A7.5,12.5 30.26 0 0 988.8,545.2 L982.8,541.7 A7.5,12.5 30.26 0 0 970.2,563.3 Z" fill="#c1c1c1" stroke="#757575" stroke-width="0.7"/>
<ellipse cx="978" cy="553.38" rx="7.5" ry="12.5" transform="rotate(30.26 978 553.38)" fill="none" stroke="#8a8a8a" stroke-width="0.5"/>
<ellipse cx="979.5" cy="554.25" rx="7.5" ry="12.5" transform="rotate(30.26 979.5 554.25)" fill="none" stroke="#8a8a8a" stroke-width="0.5"/>
<ellipse cx="981" cy="555.12" rx="7.5" ry="12.5" transform="rotate(30.26 981 555.12)" fill="none" stroke="#8a8a8a" stroke-width="0.5"/>
<ellipse cx="976.5" cy="552.5" rx="7.5" ry="12.5" transform="rotate(30.26 976.5 552.5)" fill="#c8c8c8" stroke="#757575" stroke-width="0.7" />
<path d="M980.12,561.48 L984.72,563.48 A3.59,5.98 23.5 0 0 989.48,552.52 L984.88,550.52 A3.59,5.98 23.5 0 0 980.12,561.48 Z" fill="#c4c4c4" stroke="#757575" stroke-width="0.7"/>
<ellipse cx="987.1" cy="558" rx="3.59" ry="5.98" transform="rotate(23.5 987.1 558)" fill="#c9c9c9" stroke="#757575" stroke-width="0.7" />
<path d="M985.54,561.59 L992.44,564.59 A2.35,3.91 23.5 0 0 995.56,557.41 L988.66,554.41 A2.35,3.91 23.5 0 0 985.54,561.59 Z" fill="#c8c8c8" stroke="#757575" stroke-width="0.7"/>
<ellipse cx="994" cy="561" rx="2.35" ry="3.91" transform="rotate(23.5 994 561)" fill="#d0d0d0" stroke="#757575" stroke-width="0.7" />
<text x="981.6" y="521.2" font-size="12" fill="#111" stroke="#111" stroke-width="0.25" text-anchor="middle">3</text>
<line x1="981.6" y1="524.7" x2="981.6" y2="540.5" stroke="#1a1a1a" stroke-width="1.0"/>
<ellipse cx="1003.65" cy="568.55" rx="3.27" ry="4.88" transform="rotate(30 1003.65 568.55)" fill="#f4f4f4" stroke="#111" stroke-width="1.0" />
<ellipse cx="1002.18" cy="567.7" rx="3.27" ry="4.88" transform="rotate(30 1002.18 567.7)" fill="#f8f8f8" stroke="#111" stroke-width="1.0" />
<ellipse cx="1002.18" cy="567.7" rx="1.77" ry="3.18" transform="rotate(30 1002.18 567.7)" fill="#fff" stroke="#333" stroke-width="0.7" />
<circle cx="1002.98" cy="563.62" r="1" fill="#111"/>
<line x1="1002.4" y1="573.2" x2="1002.4" y2="592.5" stroke="#1a1a1a" stroke-width="1.0"/>
<text x="1002.4" y="603.1" font-size="12" fill="#111" stroke="#111" stroke-width="0.25" text-anchor="middle">5</text>
<ellipse cx="1013.7" cy="573.7" rx="3.44" ry="5.06" transform="rotate(30 1013.7 573.7)" fill="none" stroke="#111" stroke-width="1.2" stroke-dasharray="3.2 0.6"/>
<ellipse cx="1013.7" cy="573.7" rx="2.14" ry="3.66" transform="rotate(30 1013.7 573.7)" fill="none" stroke="#9a9a9a" stroke-width="0.6" />
<text x="1013" y="546.7" font-size="12" fill="#111" stroke="#111" stroke-width="0.25" text-anchor="middle">8</text>
<line x1="1013.5" y1="551.7" x2="1013.5" y2="568.4" stroke="#1a1a1a" stroke-width="1.0"/>
<ellipse cx="1025.5" cy="580.5" rx="3.44" ry="5.06" transform="rotate(30 1025.5 580.5)" fill="none" stroke="#111" stroke-width="1.2" stroke-dasharray="3.2 0.6"/>
<ellipse cx="1025.5" cy="580.5" rx="2.14" ry="3.66" transform="rotate(30 1025.5 580.5)" fill="none" stroke="#9a9a9a" stroke-width="0.6" />
<line x1="1024.6" y1="586" x2="1024.6" y2="601.2" stroke="#1a1a1a" stroke-width="1.0"/>
<text x="1025.5" y="613.3" font-size="12.3" fill="#1414ae" stroke="#1414ae" stroke-width="0.3" text-anchor="middle">49557</text>
<polygon points="349.5,225.82 345.26,230.78 338.76,229.65 336.5,223.58 340.74,218.62 347.24,219.75" fill="#e2e2e2" stroke="#3a3a3a" stroke-width="1.0" stroke-linejoin="round"/>
<path d="M341.5,220.2 q-3,2.5 -1,4.5 q2.5,2 -0.5,4.5 M345,221.2 q2.5,3.5 0,7 M338,225.7 l2,-1" fill="none" stroke="#555" stroke-width="0.8"/>
<line x1="342.3" y1="231.4" x2="342.3" y2="249.5" stroke="#1a1a1a" stroke-width="1.0"/>
<text x="341.7" y="260.5" font-size="12.3" fill="#1414ae" stroke="#1414ae" stroke-width="0.3" text-anchor="middle">49551</text>
<path d="M353.78,237.85 L374.28,246.55 A2.64,4.4 23 0 0 377.72,238.45 L357.22,229.75 A2.64,4.4 23 0 0 353.78,237.85 Z" fill="#c8c8c8" stroke="#757575" stroke-width="0.7"/>
<ellipse cx="355.5" cy="233.8" rx="2.64" ry="4.4" transform="rotate(23 355.5 233.8)" fill="#c9c9c9" stroke="#757575" stroke-width="0.7" />
<ellipse cx="365.34" cy="237.98" rx="2.51" ry="4.18" transform="rotate(23 365.34 237.98)" fill="none" stroke="#999" stroke-width="0.5"/>
<ellipse cx="368" cy="239.11" rx="2.51" ry="4.18" transform="rotate(23 368 239.11)" fill="none" stroke="#999" stroke-width="0.5"/>
<ellipse cx="370.67" cy="240.24" rx="2.51" ry="4.18" transform="rotate(23 370.67 240.24)" fill="none" stroke="#999" stroke-width="0.5"/>
<ellipse cx="373.33" cy="241.37" rx="2.51" ry="4.18" transform="rotate(23 373.33 241.37)" fill="none" stroke="#999" stroke-width="0.5"/>
<path d="M381.68,263.73 L386.4,263.89 L391.58,262.98 L396.65,262.33 L399.42,262.57 L401.51,262.17 A2.4,4 23.5 0 0 404.69,254.83 L403.56,253.03 L401.5,251.17 L398.52,247.02 L395.65,242.61 L392.32,239.27 A8,13.34 23.5 0 0 381.68,263.73 Z" fill="#c0c0c0" stroke="#747474" stroke-width="0.7" stroke-linejoin="round"/>
<path d="M384.66,263.49 A7.38,11.93 23.5 0 0 394.17,241.61" fill="none" stroke="#8e8e8e" stroke-width="0.6"/>
<path d="M388.6,263.24 A6.26,10.13 23.5 0 0 396.67,244.66" fill="none" stroke="#8e8e8e" stroke-width="0.6"/>
<path d="M392.69,262.62 A4.91,7.93 23.5 0 0 399.02,248.08" fill="none" stroke="#8e8e8e" stroke-width="0.6"/>
<path d="M396.12,262.24 A3.84,6.21 23.5 0 0 401.07,250.84" fill="none" stroke="#8e8e8e" stroke-width="0.6"/>
<path d="M373.52,260.97 L380.52,264.47 A8.7,14.5 26.57 0 0 393.48,238.53 L386.48,235.03 A8.7,14.5 26.57 0 0 373.52,260.97 Z" fill="#c1c1c1" stroke="#757575" stroke-width="0.7"/>
<ellipse cx="382.33" cy="249.17" rx="8.7" ry="14.5" transform="rotate(26.57 382.33 249.17)" fill="none" stroke="#8d8d8d" stroke-width="0.5"/>
<ellipse cx="384.67" cy="250.33" rx="8.7" ry="14.5" transform="rotate(26.57 384.67 250.33)" fill="none" stroke="#8d8d8d" stroke-width="0.5"/>
<ellipse cx="380" cy="248" rx="8.7" ry="14.5" transform="rotate(26.57 380 248)" fill="#c4c4c4" stroke="#757575" stroke-width="0.7" />
<ellipse cx="380" cy="248" rx="7.13" ry="11.89" transform="rotate(26.57 380 248)" fill="none" stroke="#9a9a9a" stroke-width="0.5" />
<path d="M401.3,262.56 L514.3,325.56 A2.1,3.5 29.14 0 0 517.7,319.44 L404.7,256.44 A2.1,3.5 29.14 0 0 401.3,262.56 Z" fill="#bababa" stroke="#666" stroke-width="0.75"/>
<line x1="403.51" y1="258.58" x2="516.51" y2="321.58" stroke="#cccccc" stroke-width="1.9250000000000003"/>
<path d="M510.08,327.97 L518.08,332.47 A4.8,8 29.36 0 0 525.92,318.53 L517.92,314.03 A4.8,8 29.36 0 0 510.08,327.97 Z" fill="#c1c1c1" stroke="#757575" stroke-width="0.7"/>
<ellipse cx="514" cy="321" rx="4.8" ry="8" transform="rotate(29.36 514 321)" fill="#c8c8c8" stroke="#757575" stroke-width="0.7" />
<path d="M519.45,339.69 L535.05,348.69 A8.1,13.5 29.98 0 0 548.55,325.31 L532.95,316.31 A8.1,13.5 29.98 0 0 519.45,339.69 Z" fill="#c1c1c1" stroke="#757575" stroke-width="0.7"/>
<ellipse cx="526.2" cy="328" rx="8.1" ry="13.5" transform="rotate(29.98 526.2 328)" fill="#c8c8c8" stroke="#757575" stroke-width="0.7" />
<ellipse cx="531.4" cy="331" rx="8.1" ry="13.5" transform="rotate(29.98 531.4 331)" fill="none" stroke="#8d8d8d" stroke-width="0.5"/>
<ellipse cx="536.6" cy="334" rx="8.1" ry="13.5" transform="rotate(29.98 536.6 334)" fill="none" stroke="#8d8d8d" stroke-width="0.5"/>
<path d="M536.32,346.71 L545.71,347.18 A4.2,7 28.07 0 0 552.29,334.82 L546.68,327.29 A6.6,11 28.07 0 0 536.32,346.71 Z" fill="#c1c1c1" stroke="#757575" stroke-width="0.7"/>
<path d="M567.54,345.22 L549.04,335.22 A2.58,4.3 -151.61 0 0 544.96,342.78 L563.46,352.78 A2.58,4.3 -151.61 0 0 567.54,345.22 Z" fill="#c8c8c8" stroke="#757575" stroke-width="0.7"/>
<ellipse cx="565.5" cy="349" rx="2.58" ry="4.3" transform="rotate(-151.61 565.5 349)" fill="#c9c9c9" stroke="#757575" stroke-width="0.7" />
<ellipse cx="556.62" cy="344.2" rx="2.45" ry="4.08" transform="rotate(-151.61 556.62 344.2)" fill="none" stroke="#999" stroke-width="0.5"/>
<ellipse cx="554.22" cy="342.9" rx="2.45" ry="4.08" transform="rotate(-151.61 554.22 342.9)" fill="none" stroke="#999" stroke-width="0.5"/>
<ellipse cx="551.81" cy="341.6" rx="2.45" ry="4.08" transform="rotate(-151.61 551.81 341.6)" fill="none" stroke="#999" stroke-width="0.5"/>
<ellipse cx="549.4" cy="340.3" rx="2.45" ry="4.08" transform="rotate(-151.61 549.4 340.3)" fill="none" stroke="#999" stroke-width="0.5"/>
<path d="M567.63,356.65 L586.13,366.15 A2.46,4.1 27.18 0 0 589.87,358.85 L571.37,349.35 A2.46,4.1 27.18 0 0 567.63,356.65 Z" fill="#c8c8c8" stroke="#757575" stroke-width="0.7"/>
<ellipse cx="569.5" cy="353" rx="2.46" ry="4.1" transform="rotate(27.18 569.5 353)" fill="#c9c9c9" stroke="#757575" stroke-width="0.7" />
<ellipse cx="578.38" cy="357.56" rx="2.34" ry="3.89" transform="rotate(27.18 578.38 357.56)" fill="none" stroke="#999" stroke-width="0.5"/>
<ellipse cx="580.78" cy="358.8" rx="2.34" ry="3.89" transform="rotate(27.18 580.78 358.8)" fill="none" stroke="#999" stroke-width="0.5"/>
<ellipse cx="583.19" cy="360.03" rx="2.34" ry="3.89" transform="rotate(27.18 583.19 360.03)" fill="none" stroke="#999" stroke-width="0.5"/>
<ellipse cx="585.6" cy="361.26" rx="2.34" ry="3.89" transform="rotate(27.18 585.6 361.26)" fill="none" stroke="#999" stroke-width="0.5"/>
<path d="M585.27,377.1 L601.27,386.3 A8.1,13.5 29.9 0 0 614.73,362.9 L598.73,353.7 A8.1,13.5 29.9 0 0 585.27,377.1 Z" fill="#c1c1c1" stroke="#757575" stroke-width="0.7"/>
<ellipse cx="592" cy="365.4" rx="8.1" ry="13.5" transform="rotate(29.9 592 365.4)" fill="#c8c8c8" stroke="#757575" stroke-width="0.7" />
<ellipse cx="597.33" cy="368.47" rx="8.1" ry="13.5" transform="rotate(29.9 597.33 368.47)" fill="none" stroke="#8d8d8d" stroke-width="0.5"/>
<ellipse cx="602.67" cy="371.53" rx="8.1" ry="13.5" transform="rotate(29.9 602.67 371.53)" fill="none" stroke="#8d8d8d" stroke-width="0.5"/>
<path d="M603.08,383.87 L618.42,386.36 A3.3,5.5 27.96 0 0 623.58,376.64 L612.92,365.33 A6.3,10.5 27.96 0 0 603.08,383.87 Z" fill="#c1c1c1" stroke="#757575" stroke-width="0.7"/>
<path d="M618.09,383.55 L740.09,460.05 A2.16,3.6 32.09 0 0 743.91,453.95 L621.91,377.45 A2.16,3.6 32.09 0 0 618.09,383.55 Z" fill="#bababa" stroke="#666" stroke-width="0.75"/>
<line x1="620.57" y1="379.59" x2="742.57" y2="456.09" stroke="#cccccc" stroke-width="1.9800000000000002"/>
<path d="M737.66,460.35 L738.78,461.03 L738.18,463.29 L740.11,465.78 L741.86,469.21 L743.96,472.07 L745.67,473.98 L747.9,475.05 A7.06,11.76 31.26 0 0 760.1,454.95 L758.13,453.47 L755.64,452.83 L752.14,452.29 L748.29,452.32 L745.18,451.75 L743.46,453.33 L742.34,452.65 A2.7,4.5 31.26 0 0 737.66,460.35 Z" fill="#c0c0c0" stroke="#747474" stroke-width="0.7" stroke-linejoin="round"/>
<path d="M738.93,463.94 A4.27,6.91 31.26 0 0 746.11,452.12" fill="none" stroke="#8c8c8c" stroke-width="0.6"/>
<path d="M740.41,465.92 A4.85,7.84 31.26 0 0 748.55,452.52" fill="none" stroke="#8c8c8c" stroke-width="0.6"/>
<path d="M741.66,468.28 A5.7,9.21 31.26 0 0 751.22,452.54" fill="none" stroke="#8c8c8c" stroke-width="0.6"/>
<path d="M743.08,470.37 A6.34,10.26 31.26 0 0 753.72,452.83" fill="none" stroke="#8c8c8c" stroke-width="0.6"/>
<path d="M744.6,472.28 A6.87,11.11 31.26 0 0 756.12,453.3" fill="none" stroke="#8c8c8c" stroke-width="0.6"/>
<ellipse cx="740" cy="456.5" rx="2.7" ry="4.5" transform="rotate(31.26 740 456.5)" fill="#cacaca" stroke="#757575" stroke-width="0.6" />
<path d="M748.19,475.73 L760.19,482.23 A7.32,12.2 28.44 0 0 771.81,460.77 L759.81,454.27 A7.32,12.2 28.44 0 0 748.19,475.73 Z" fill="#c1c1c1" stroke="#757575" stroke-width="0.7"/>
<ellipse cx="766" cy="471.5" rx="7.32" ry="12.2" transform="rotate(30 766 471.5)" fill="#c8c8c8" stroke="#757575" stroke-width="0.7" />
<ellipse cx="766" cy="471.5" rx="5.12" ry="8.54" transform="rotate(30 766 471.5)" fill="#c4c4c4" stroke="#8a8a8a" stroke-width="0.6" />
<path d="M794.37,479.51 L770.87,468.51 A2.64,4.4 -154.92 0 0 767.13,476.49 L790.63,487.49 A2.64,4.4 -154.92 0 0 794.37,479.51 Z" fill="#c8c8c8" stroke="#757575" stroke-width="0.7"/>
<ellipse cx="792.5" cy="483.5" rx="2.64" ry="4.4" transform="rotate(-154.92 792.5 483.5)" fill="#c9c9c9" stroke="#757575" stroke-width="0.7" />
<ellipse cx="781.22" cy="478.22" rx="2.51" ry="4.18" transform="rotate(-154.92 781.22 478.22)" fill="none" stroke="#999" stroke-width="0.5"/>
<ellipse cx="778.16" cy="476.79" rx="2.51" ry="4.18" transform="rotate(-154.92 778.16 476.79)" fill="none" stroke="#999" stroke-width="0.5"/>
<ellipse cx="775.11" cy="475.36" rx="2.51" ry="4.18" transform="rotate(-154.92 775.11 475.36)" fill="none" stroke="#999" stroke-width="0.5"/>
<ellipse cx="772.05" cy="473.93" rx="2.51" ry="4.18" transform="rotate(-154.92 772.05 473.93)" fill="none" stroke="#999" stroke-width="0.5"/>
<polygon points="811.2,493.82 806.96,498.78 800.46,497.65 798.2,491.58 802.44,486.62 808.94,487.75" fill="#e2e2e2" stroke="#3a3a3a" stroke-width="1.0" stroke-linejoin="round"/>
<path d="M803.2,488.2 q-3,2.5 -1,4.5 q2.5,2 -0.5,4.5 M806.7,489.2 q2.5,3.5 0,7 M799.7,493.7 l2,-1" fill="none" stroke="#555" stroke-width="0.8"/>
<line x1="805.3" y1="469" x2="805.3" y2="486.1" stroke="#1a1a1a" stroke-width="1.0"/>
<text x="805.3" y="464.7" font-size="12.3" fill="#1414ae" stroke="#1414ae" stroke-width="0.3" text-anchor="middle">49551</text>
<path d="M542.2,239.9 L549.5,244.1 C540,262 515,285 490.1,302.6 C510,285 533,258 542.2,239.9 Z" fill="#000"/>
<path d="M683.6,428.3 C665,447 635,470 604.4,487.1 L613.2,492.6 C645,472 668,448 683.6,428.3 Z" fill="#000"/>
<text x="17.1" y="715.9" font-size="17" fill="#000" stroke="#000" stroke-width="0.45" text-anchor="start">FR.</text>
<polygon points="43,692.9 47.1,695.3 56.5,690.2 64.7,695.3 58,699.8 60.4,702.5 43,702.5" fill="#000" stroke="none" stroke-width="0" />
</svg>
</body></html>
